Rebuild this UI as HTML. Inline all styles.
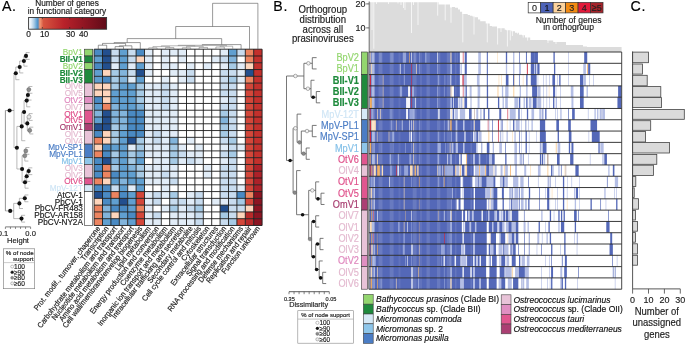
<!DOCTYPE html>
<html><head><meta charset="utf-8"><style>
html,body{margin:0;padding:0;background:#fff;width:685px;height:344px;overflow:hidden}
svg{display:block;font-family:"Liberation Sans",sans-serif;will-change:transform}
text{stroke-width:0.17px}
</style></head><body>
<svg width="685" height="344" viewBox="0 0 685 344" shape-rendering="auto">
<text transform="translate(2 11.3) scale(0.9524 1)" font-size="14.91" stroke="#000" letter-spacing="0.6">A.</text>
<text x="67" y="5.9" font-size="8.3" text-anchor="middle" fill="#1a1a1a" stroke="#1a1a1a">Number of genes</text>
<text x="67" y="13.7" font-size="8.3" text-anchor="middle" fill="#1a1a1a" stroke="#1a1a1a">in functional category</text>
<defs>
<linearGradient id="cbar" x1="0" x2="1" y1="0" y2="0">
<stop offset="0" stop-color="#ffffff"/>
<stop offset="0.03" stop-color="#e6f0f8"/>
<stop offset="0.07" stop-color="#a9cbe6"/>
<stop offset="0.1" stop-color="#6aa7d6"/>
<stop offset="0.122" stop-color="#4a8cc4"/>
<stop offset="0.135" stop-color="#c79a8e"/>
<stop offset="0.15" stop-color="#f0926f"/>
<stop offset="0.19" stop-color="#d7553f"/>
<stop offset="0.45" stop-color="#b9222a"/>
<stop offset="0.72" stop-color="#8e1522"/>
<stop offset="1" stop-color="#5f0b18"/>
</linearGradient></defs>
<rect x="28.6" y="17.5" width="78" height="11.7" fill="url(#cbar)" stroke="#333" stroke-width="0.9"/>
<line x1="42.4" y1="17.6" x2="42.4" y2="19.2" stroke="#222" stroke-width="0.6"/>
<line x1="42.4" y1="27" x2="42.4" y2="28.6" stroke="#222" stroke-width="0.6"/>
<line x1="69.7" y1="17.6" x2="69.7" y2="19.2" stroke="#222" stroke-width="0.6"/>
<line x1="69.7" y1="27" x2="69.7" y2="28.6" stroke="#222" stroke-width="0.6"/>
<line x1="82.3" y1="17.6" x2="82.3" y2="19.2" stroke="#222" stroke-width="0.6"/>
<line x1="82.3" y1="27" x2="82.3" y2="28.6" stroke="#222" stroke-width="0.6"/>
<text x="28.6" y="36.6" font-size="8.3" text-anchor="middle" fill="#1a1a1a" stroke="#1a1a1a">0</text>
<text x="44.6" y="36.6" font-size="8.3" text-anchor="middle" fill="#1a1a1a" stroke="#1a1a1a">10</text>
<text x="70.6" y="36.6" font-size="8.3" text-anchor="middle" fill="#1a1a1a" stroke="#1a1a1a">30</text>
<text x="83.6" y="36.6" font-size="8.3" text-anchor="middle" fill="#1a1a1a" stroke="#1a1a1a">40</text>
<rect x="94.1" y="49.2" width="8.4" height="6.78" fill="#4a8ac3"/>
<rect x="102.5" y="49.2" width="8.4" height="6.78" fill="#234f8e"/>
<rect x="110.9" y="49.2" width="8.4" height="6.78" fill="#c8dcef"/>
<rect x="119.3" y="49.2" width="8.4" height="6.78" fill="#609fd0"/>
<rect x="127.7" y="49.2" width="8.4" height="6.78" fill="#c8dcef"/>
<rect x="136.1" y="49.2" width="8.4" height="6.78" fill="#4a8ac3"/>
<rect x="144.5" y="49.2" width="8.4" height="6.78" fill="#e1ecf7"/>
<rect x="152.9" y="49.2" width="8.4" height="6.78" fill="#ffffff"/>
<rect x="161.3" y="49.2" width="8.4" height="6.78" fill="#e1ecf7"/>
<rect x="169.7" y="49.2" width="8.4" height="6.78" fill="#e1ecf7"/>
<rect x="178.1" y="49.2" width="8.4" height="6.78" fill="#e1ecf7"/>
<rect x="186.5" y="49.2" width="8.4" height="6.78" fill="#ffffff"/>
<rect x="194.9" y="49.2" width="8.4" height="6.78" fill="#ffffff"/>
<rect x="203.3" y="49.2" width="8.4" height="6.78" fill="#ffffff"/>
<rect x="211.7" y="49.2" width="8.4" height="6.78" fill="#ffffff"/>
<rect x="220.1" y="49.2" width="8.4" height="6.78" fill="#e1ecf7"/>
<rect x="228.5" y="49.2" width="8.4" height="6.78" fill="#609fd0"/>
<rect x="236.9" y="49.2" width="8.4" height="6.78" fill="#c8dcef"/>
<rect x="245.3" y="49.2" width="8.4" height="6.78" fill="#ec8460"/>
<rect x="253.7" y="49.2" width="8.4" height="6.78" fill="#c3302c"/>
<rect x="94.1" y="55.98" width="8.4" height="6.78" fill="#609fd0"/>
<rect x="102.5" y="55.98" width="8.4" height="6.78" fill="#234f8e"/>
<rect x="110.9" y="55.98" width="8.4" height="6.78" fill="#c8dcef"/>
<rect x="119.3" y="55.98" width="8.4" height="6.78" fill="#609fd0"/>
<rect x="127.7" y="55.98" width="8.4" height="6.78" fill="#c8dcef"/>
<rect x="136.1" y="55.98" width="8.4" height="6.78" fill="#fdd5bc"/>
<rect x="144.5" y="55.98" width="8.4" height="6.78" fill="#e1ecf7"/>
<rect x="152.9" y="55.98" width="8.4" height="6.78" fill="#ffffff"/>
<rect x="161.3" y="55.98" width="8.4" height="6.78" fill="#e1ecf7"/>
<rect x="169.7" y="55.98" width="8.4" height="6.78" fill="#ffffff"/>
<rect x="178.1" y="55.98" width="8.4" height="6.78" fill="#e1ecf7"/>
<rect x="186.5" y="55.98" width="8.4" height="6.78" fill="#ffffff"/>
<rect x="194.9" y="55.98" width="8.4" height="6.78" fill="#ffffff"/>
<rect x="203.3" y="55.98" width="8.4" height="6.78" fill="#ffffff"/>
<rect x="211.7" y="55.98" width="8.4" height="6.78" fill="#e1ecf7"/>
<rect x="220.1" y="55.98" width="8.4" height="6.78" fill="#c8dcef"/>
<rect x="228.5" y="55.98" width="8.4" height="6.78" fill="#82b4db"/>
<rect x="236.9" y="55.98" width="8.4" height="6.78" fill="#ffffff"/>
<rect x="245.3" y="55.98" width="8.4" height="6.78" fill="#ec8460"/>
<rect x="253.7" y="55.98" width="8.4" height="6.78" fill="#c3302c"/>
<rect x="94.1" y="62.76" width="8.4" height="6.78" fill="#4a8ac3"/>
<rect x="102.5" y="62.76" width="8.4" height="6.78" fill="#234f8e"/>
<rect x="110.9" y="62.76" width="8.4" height="6.78" fill="#e1ecf7"/>
<rect x="119.3" y="62.76" width="8.4" height="6.78" fill="#609fd0"/>
<rect x="127.7" y="62.76" width="8.4" height="6.78" fill="#e1ecf7"/>
<rect x="136.1" y="62.76" width="8.4" height="6.78" fill="#609fd0"/>
<rect x="144.5" y="62.76" width="8.4" height="6.78" fill="#e1ecf7"/>
<rect x="152.9" y="62.76" width="8.4" height="6.78" fill="#ffffff"/>
<rect x="161.3" y="62.76" width="8.4" height="6.78" fill="#e1ecf7"/>
<rect x="169.7" y="62.76" width="8.4" height="6.78" fill="#e1ecf7"/>
<rect x="178.1" y="62.76" width="8.4" height="6.78" fill="#ffffff"/>
<rect x="186.5" y="62.76" width="8.4" height="6.78" fill="#e1ecf7"/>
<rect x="194.9" y="62.76" width="8.4" height="6.78" fill="#ffffff"/>
<rect x="203.3" y="62.76" width="8.4" height="6.78" fill="#e1ecf7"/>
<rect x="211.7" y="62.76" width="8.4" height="6.78" fill="#ffffff"/>
<rect x="220.1" y="62.76" width="8.4" height="6.78" fill="#e1ecf7"/>
<rect x="228.5" y="62.76" width="8.4" height="6.78" fill="#a6cae5"/>
<rect x="236.9" y="62.76" width="8.4" height="6.78" fill="#e1ecf7"/>
<rect x="245.3" y="62.76" width="8.4" height="6.78" fill="#fdd5bc"/>
<rect x="253.7" y="62.76" width="8.4" height="6.78" fill="#c3302c"/>
<rect x="94.1" y="69.54" width="8.4" height="6.78" fill="#609fd0"/>
<rect x="102.5" y="69.54" width="8.4" height="6.78" fill="#fdd5bc"/>
<rect x="110.9" y="69.54" width="8.4" height="6.78" fill="#a6cae5"/>
<rect x="119.3" y="69.54" width="8.4" height="6.78" fill="#82b4db"/>
<rect x="127.7" y="69.54" width="8.4" height="6.78" fill="#c8dcef"/>
<rect x="136.1" y="69.54" width="8.4" height="6.78" fill="#234f8e"/>
<rect x="144.5" y="69.54" width="8.4" height="6.78" fill="#e1ecf7"/>
<rect x="152.9" y="69.54" width="8.4" height="6.78" fill="#ffffff"/>
<rect x="161.3" y="69.54" width="8.4" height="6.78" fill="#ffffff"/>
<rect x="169.7" y="69.54" width="8.4" height="6.78" fill="#e1ecf7"/>
<rect x="178.1" y="69.54" width="8.4" height="6.78" fill="#e1ecf7"/>
<rect x="186.5" y="69.54" width="8.4" height="6.78" fill="#c8dcef"/>
<rect x="194.9" y="69.54" width="8.4" height="6.78" fill="#ffffff"/>
<rect x="203.3" y="69.54" width="8.4" height="6.78" fill="#ffffff"/>
<rect x="211.7" y="69.54" width="8.4" height="6.78" fill="#ffffff"/>
<rect x="220.1" y="69.54" width="8.4" height="6.78" fill="#c8dcef"/>
<rect x="228.5" y="69.54" width="8.4" height="6.78" fill="#c8dcef"/>
<rect x="236.9" y="69.54" width="8.4" height="6.78" fill="#e1ecf7"/>
<rect x="245.3" y="69.54" width="8.4" height="6.78" fill="#234f8e"/>
<rect x="253.7" y="69.54" width="8.4" height="6.78" fill="#c3302c"/>
<rect x="94.1" y="76.32" width="8.4" height="6.78" fill="#609fd0"/>
<rect x="102.5" y="76.32" width="8.4" height="6.78" fill="#4a8ac3"/>
<rect x="110.9" y="76.32" width="8.4" height="6.78" fill="#a6cae5"/>
<rect x="119.3" y="76.32" width="8.4" height="6.78" fill="#82b4db"/>
<rect x="127.7" y="76.32" width="8.4" height="6.78" fill="#e1ecf7"/>
<rect x="136.1" y="76.32" width="8.4" height="6.78" fill="#609fd0"/>
<rect x="144.5" y="76.32" width="8.4" height="6.78" fill="#ffffff"/>
<rect x="152.9" y="76.32" width="8.4" height="6.78" fill="#ffffff"/>
<rect x="161.3" y="76.32" width="8.4" height="6.78" fill="#e1ecf7"/>
<rect x="169.7" y="76.32" width="8.4" height="6.78" fill="#ffffff"/>
<rect x="178.1" y="76.32" width="8.4" height="6.78" fill="#e1ecf7"/>
<rect x="186.5" y="76.32" width="8.4" height="6.78" fill="#c8dcef"/>
<rect x="194.9" y="76.32" width="8.4" height="6.78" fill="#ffffff"/>
<rect x="203.3" y="76.32" width="8.4" height="6.78" fill="#ffffff"/>
<rect x="211.7" y="76.32" width="8.4" height="6.78" fill="#ffffff"/>
<rect x="220.1" y="76.32" width="8.4" height="6.78" fill="#c8dcef"/>
<rect x="228.5" y="76.32" width="8.4" height="6.78" fill="#a6cae5"/>
<rect x="236.9" y="76.32" width="8.4" height="6.78" fill="#e1ecf7"/>
<rect x="245.3" y="76.32" width="8.4" height="6.78" fill="#ec8460"/>
<rect x="253.7" y="76.32" width="8.4" height="6.78" fill="#c3302c"/>
<rect x="94.1" y="83.1" width="8.4" height="6.78" fill="#fdd5bc"/>
<rect x="102.5" y="83.1" width="8.4" height="6.78" fill="#fdd5bc"/>
<rect x="110.9" y="83.1" width="8.4" height="6.78" fill="#a6cae5"/>
<rect x="119.3" y="83.1" width="8.4" height="6.78" fill="#609fd0"/>
<rect x="127.7" y="83.1" width="8.4" height="6.78" fill="#609fd0"/>
<rect x="136.1" y="83.1" width="8.4" height="6.78" fill="#a6cae5"/>
<rect x="144.5" y="83.1" width="8.4" height="6.78" fill="#e1ecf7"/>
<rect x="152.9" y="83.1" width="8.4" height="6.78" fill="#e1ecf7"/>
<rect x="161.3" y="83.1" width="8.4" height="6.78" fill="#c8dcef"/>
<rect x="169.7" y="83.1" width="8.4" height="6.78" fill="#e1ecf7"/>
<rect x="178.1" y="83.1" width="8.4" height="6.78" fill="#ffffff"/>
<rect x="186.5" y="83.1" width="8.4" height="6.78" fill="#ffffff"/>
<rect x="194.9" y="83.1" width="8.4" height="6.78" fill="#ffffff"/>
<rect x="203.3" y="83.1" width="8.4" height="6.78" fill="#ffffff"/>
<rect x="211.7" y="83.1" width="8.4" height="6.78" fill="#ffffff"/>
<rect x="220.1" y="83.1" width="8.4" height="6.78" fill="#c8dcef"/>
<rect x="228.5" y="83.1" width="8.4" height="6.78" fill="#c8dcef"/>
<rect x="236.9" y="83.1" width="8.4" height="6.78" fill="#ffffff"/>
<rect x="245.3" y="83.1" width="8.4" height="6.78" fill="#d3473a"/>
<rect x="253.7" y="83.1" width="8.4" height="6.78" fill="#c3302c"/>
<rect x="94.1" y="89.88" width="8.4" height="6.78" fill="#fdd5bc"/>
<rect x="102.5" y="89.88" width="8.4" height="6.78" fill="#fdd5bc"/>
<rect x="110.9" y="89.88" width="8.4" height="6.78" fill="#609fd0"/>
<rect x="119.3" y="89.88" width="8.4" height="6.78" fill="#609fd0"/>
<rect x="127.7" y="89.88" width="8.4" height="6.78" fill="#609fd0"/>
<rect x="136.1" y="89.88" width="8.4" height="6.78" fill="#a6cae5"/>
<rect x="144.5" y="89.88" width="8.4" height="6.78" fill="#e1ecf7"/>
<rect x="152.9" y="89.88" width="8.4" height="6.78" fill="#e1ecf7"/>
<rect x="161.3" y="89.88" width="8.4" height="6.78" fill="#c8dcef"/>
<rect x="169.7" y="89.88" width="8.4" height="6.78" fill="#e1ecf7"/>
<rect x="178.1" y="89.88" width="8.4" height="6.78" fill="#ffffff"/>
<rect x="186.5" y="89.88" width="8.4" height="6.78" fill="#ffffff"/>
<rect x="194.9" y="89.88" width="8.4" height="6.78" fill="#ffffff"/>
<rect x="203.3" y="89.88" width="8.4" height="6.78" fill="#ffffff"/>
<rect x="211.7" y="89.88" width="8.4" height="6.78" fill="#ffffff"/>
<rect x="220.1" y="89.88" width="8.4" height="6.78" fill="#c8dcef"/>
<rect x="228.5" y="89.88" width="8.4" height="6.78" fill="#c8dcef"/>
<rect x="236.9" y="89.88" width="8.4" height="6.78" fill="#ffffff"/>
<rect x="245.3" y="89.88" width="8.4" height="6.78" fill="#d3473a"/>
<rect x="253.7" y="89.88" width="8.4" height="6.78" fill="#c3302c"/>
<rect x="94.1" y="96.66" width="8.4" height="6.78" fill="#4a8ac3"/>
<rect x="102.5" y="96.66" width="8.4" height="6.78" fill="#fdd5bc"/>
<rect x="110.9" y="96.66" width="8.4" height="6.78" fill="#609fd0"/>
<rect x="119.3" y="96.66" width="8.4" height="6.78" fill="#609fd0"/>
<rect x="127.7" y="96.66" width="8.4" height="6.78" fill="#609fd0"/>
<rect x="136.1" y="96.66" width="8.4" height="6.78" fill="#a6cae5"/>
<rect x="144.5" y="96.66" width="8.4" height="6.78" fill="#e1ecf7"/>
<rect x="152.9" y="96.66" width="8.4" height="6.78" fill="#e1ecf7"/>
<rect x="161.3" y="96.66" width="8.4" height="6.78" fill="#c8dcef"/>
<rect x="169.7" y="96.66" width="8.4" height="6.78" fill="#e1ecf7"/>
<rect x="178.1" y="96.66" width="8.4" height="6.78" fill="#ffffff"/>
<rect x="186.5" y="96.66" width="8.4" height="6.78" fill="#ffffff"/>
<rect x="194.9" y="96.66" width="8.4" height="6.78" fill="#ffffff"/>
<rect x="203.3" y="96.66" width="8.4" height="6.78" fill="#ffffff"/>
<rect x="211.7" y="96.66" width="8.4" height="6.78" fill="#ffffff"/>
<rect x="220.1" y="96.66" width="8.4" height="6.78" fill="#e1ecf7"/>
<rect x="228.5" y="96.66" width="8.4" height="6.78" fill="#c8dcef"/>
<rect x="236.9" y="96.66" width="8.4" height="6.78" fill="#ffffff"/>
<rect x="245.3" y="96.66" width="8.4" height="6.78" fill="#d3473a"/>
<rect x="253.7" y="96.66" width="8.4" height="6.78" fill="#c3302c"/>
<rect x="94.1" y="103.44" width="8.4" height="6.78" fill="#609fd0"/>
<rect x="102.5" y="103.44" width="8.4" height="6.78" fill="#ec8460"/>
<rect x="110.9" y="103.44" width="8.4" height="6.78" fill="#82b4db"/>
<rect x="119.3" y="103.44" width="8.4" height="6.78" fill="#609fd0"/>
<rect x="127.7" y="103.44" width="8.4" height="6.78" fill="#609fd0"/>
<rect x="136.1" y="103.44" width="8.4" height="6.78" fill="#82b4db"/>
<rect x="144.5" y="103.44" width="8.4" height="6.78" fill="#e1ecf7"/>
<rect x="152.9" y="103.44" width="8.4" height="6.78" fill="#e1ecf7"/>
<rect x="161.3" y="103.44" width="8.4" height="6.78" fill="#c8dcef"/>
<rect x="169.7" y="103.44" width="8.4" height="6.78" fill="#e1ecf7"/>
<rect x="178.1" y="103.44" width="8.4" height="6.78" fill="#ffffff"/>
<rect x="186.5" y="103.44" width="8.4" height="6.78" fill="#ffffff"/>
<rect x="194.9" y="103.44" width="8.4" height="6.78" fill="#ffffff"/>
<rect x="203.3" y="103.44" width="8.4" height="6.78" fill="#ffffff"/>
<rect x="211.7" y="103.44" width="8.4" height="6.78" fill="#ffffff"/>
<rect x="220.1" y="103.44" width="8.4" height="6.78" fill="#c8dcef"/>
<rect x="228.5" y="103.44" width="8.4" height="6.78" fill="#c8dcef"/>
<rect x="236.9" y="103.44" width="8.4" height="6.78" fill="#ffffff"/>
<rect x="245.3" y="103.44" width="8.4" height="6.78" fill="#d3473a"/>
<rect x="253.7" y="103.44" width="8.4" height="6.78" fill="#c3302c"/>
<rect x="94.1" y="110.22" width="8.4" height="6.78" fill="#82b4db"/>
<rect x="102.5" y="110.22" width="8.4" height="6.78" fill="#234f8e"/>
<rect x="110.9" y="110.22" width="8.4" height="6.78" fill="#82b4db"/>
<rect x="119.3" y="110.22" width="8.4" height="6.78" fill="#82b4db"/>
<rect x="127.7" y="110.22" width="8.4" height="6.78" fill="#4a8ac3"/>
<rect x="136.1" y="110.22" width="8.4" height="6.78" fill="#4a8ac3"/>
<rect x="144.5" y="110.22" width="8.4" height="6.78" fill="#e1ecf7"/>
<rect x="152.9" y="110.22" width="8.4" height="6.78" fill="#e1ecf7"/>
<rect x="161.3" y="110.22" width="8.4" height="6.78" fill="#e1ecf7"/>
<rect x="169.7" y="110.22" width="8.4" height="6.78" fill="#e1ecf7"/>
<rect x="178.1" y="110.22" width="8.4" height="6.78" fill="#ffffff"/>
<rect x="186.5" y="110.22" width="8.4" height="6.78" fill="#ffffff"/>
<rect x="194.9" y="110.22" width="8.4" height="6.78" fill="#ffffff"/>
<rect x="203.3" y="110.22" width="8.4" height="6.78" fill="#ffffff"/>
<rect x="211.7" y="110.22" width="8.4" height="6.78" fill="#ffffff"/>
<rect x="220.1" y="110.22" width="8.4" height="6.78" fill="#a6cae5"/>
<rect x="228.5" y="110.22" width="8.4" height="6.78" fill="#c8dcef"/>
<rect x="236.9" y="110.22" width="8.4" height="6.78" fill="#ffffff"/>
<rect x="245.3" y="110.22" width="8.4" height="6.78" fill="#d3473a"/>
<rect x="253.7" y="110.22" width="8.4" height="6.78" fill="#c3302c"/>
<rect x="94.1" y="117" width="8.4" height="6.78" fill="#609fd0"/>
<rect x="102.5" y="117" width="8.4" height="6.78" fill="#234f8e"/>
<rect x="110.9" y="117" width="8.4" height="6.78" fill="#82b4db"/>
<rect x="119.3" y="117" width="8.4" height="6.78" fill="#82b4db"/>
<rect x="127.7" y="117" width="8.4" height="6.78" fill="#4a8ac3"/>
<rect x="136.1" y="117" width="8.4" height="6.78" fill="#4a8ac3"/>
<rect x="144.5" y="117" width="8.4" height="6.78" fill="#e1ecf7"/>
<rect x="152.9" y="117" width="8.4" height="6.78" fill="#e1ecf7"/>
<rect x="161.3" y="117" width="8.4" height="6.78" fill="#e1ecf7"/>
<rect x="169.7" y="117" width="8.4" height="6.78" fill="#e1ecf7"/>
<rect x="178.1" y="117" width="8.4" height="6.78" fill="#ffffff"/>
<rect x="186.5" y="117" width="8.4" height="6.78" fill="#ffffff"/>
<rect x="194.9" y="117" width="8.4" height="6.78" fill="#ffffff"/>
<rect x="203.3" y="117" width="8.4" height="6.78" fill="#ffffff"/>
<rect x="211.7" y="117" width="8.4" height="6.78" fill="#ffffff"/>
<rect x="220.1" y="117" width="8.4" height="6.78" fill="#82b4db"/>
<rect x="228.5" y="117" width="8.4" height="6.78" fill="#c8dcef"/>
<rect x="236.9" y="117" width="8.4" height="6.78" fill="#ffffff"/>
<rect x="245.3" y="117" width="8.4" height="6.78" fill="#d3473a"/>
<rect x="253.7" y="117" width="8.4" height="6.78" fill="#c3302c"/>
<rect x="94.1" y="123.78" width="8.4" height="6.78" fill="#234f8e"/>
<rect x="102.5" y="123.78" width="8.4" height="6.78" fill="#234f8e"/>
<rect x="110.9" y="123.78" width="8.4" height="6.78" fill="#a6cae5"/>
<rect x="119.3" y="123.78" width="8.4" height="6.78" fill="#82b4db"/>
<rect x="127.7" y="123.78" width="8.4" height="6.78" fill="#4a8ac3"/>
<rect x="136.1" y="123.78" width="8.4" height="6.78" fill="#4a8ac3"/>
<rect x="144.5" y="123.78" width="8.4" height="6.78" fill="#e1ecf7"/>
<rect x="152.9" y="123.78" width="8.4" height="6.78" fill="#e1ecf7"/>
<rect x="161.3" y="123.78" width="8.4" height="6.78" fill="#e1ecf7"/>
<rect x="169.7" y="123.78" width="8.4" height="6.78" fill="#e1ecf7"/>
<rect x="178.1" y="123.78" width="8.4" height="6.78" fill="#ffffff"/>
<rect x="186.5" y="123.78" width="8.4" height="6.78" fill="#ffffff"/>
<rect x="194.9" y="123.78" width="8.4" height="6.78" fill="#ffffff"/>
<rect x="203.3" y="123.78" width="8.4" height="6.78" fill="#ffffff"/>
<rect x="211.7" y="123.78" width="8.4" height="6.78" fill="#ffffff"/>
<rect x="220.1" y="123.78" width="8.4" height="6.78" fill="#a6cae5"/>
<rect x="228.5" y="123.78" width="8.4" height="6.78" fill="#c8dcef"/>
<rect x="236.9" y="123.78" width="8.4" height="6.78" fill="#ffffff"/>
<rect x="245.3" y="123.78" width="8.4" height="6.78" fill="#d3473a"/>
<rect x="253.7" y="123.78" width="8.4" height="6.78" fill="#c3302c"/>
<rect x="94.1" y="130.56" width="8.4" height="6.78" fill="#4a8ac3"/>
<rect x="102.5" y="130.56" width="8.4" height="6.78" fill="#fdd5bc"/>
<rect x="110.9" y="130.56" width="8.4" height="6.78" fill="#a6cae5"/>
<rect x="119.3" y="130.56" width="8.4" height="6.78" fill="#609fd0"/>
<rect x="127.7" y="130.56" width="8.4" height="6.78" fill="#4a8ac3"/>
<rect x="136.1" y="130.56" width="8.4" height="6.78" fill="#4a8ac3"/>
<rect x="144.5" y="130.56" width="8.4" height="6.78" fill="#e1ecf7"/>
<rect x="152.9" y="130.56" width="8.4" height="6.78" fill="#c8dcef"/>
<rect x="161.3" y="130.56" width="8.4" height="6.78" fill="#e1ecf7"/>
<rect x="169.7" y="130.56" width="8.4" height="6.78" fill="#e1ecf7"/>
<rect x="178.1" y="130.56" width="8.4" height="6.78" fill="#ffffff"/>
<rect x="186.5" y="130.56" width="8.4" height="6.78" fill="#ffffff"/>
<rect x="194.9" y="130.56" width="8.4" height="6.78" fill="#ffffff"/>
<rect x="203.3" y="130.56" width="8.4" height="6.78" fill="#ffffff"/>
<rect x="211.7" y="130.56" width="8.4" height="6.78" fill="#ffffff"/>
<rect x="220.1" y="130.56" width="8.4" height="6.78" fill="#a6cae5"/>
<rect x="228.5" y="130.56" width="8.4" height="6.78" fill="#c8dcef"/>
<rect x="236.9" y="130.56" width="8.4" height="6.78" fill="#ffffff"/>
<rect x="245.3" y="130.56" width="8.4" height="6.78" fill="#d3473a"/>
<rect x="253.7" y="130.56" width="8.4" height="6.78" fill="#c3302c"/>
<rect x="94.1" y="137.34" width="8.4" height="6.78" fill="#ec8460"/>
<rect x="102.5" y="137.34" width="8.4" height="6.78" fill="#fdd5bc"/>
<rect x="110.9" y="137.34" width="8.4" height="6.78" fill="#a6cae5"/>
<rect x="119.3" y="137.34" width="8.4" height="6.78" fill="#609fd0"/>
<rect x="127.7" y="137.34" width="8.4" height="6.78" fill="#234f8e"/>
<rect x="136.1" y="137.34" width="8.4" height="6.78" fill="#a6cae5"/>
<rect x="144.5" y="137.34" width="8.4" height="6.78" fill="#e1ecf7"/>
<rect x="152.9" y="137.34" width="8.4" height="6.78" fill="#c8dcef"/>
<rect x="161.3" y="137.34" width="8.4" height="6.78" fill="#e1ecf7"/>
<rect x="169.7" y="137.34" width="8.4" height="6.78" fill="#82b4db"/>
<rect x="178.1" y="137.34" width="8.4" height="6.78" fill="#ffffff"/>
<rect x="186.5" y="137.34" width="8.4" height="6.78" fill="#e1ecf7"/>
<rect x="194.9" y="137.34" width="8.4" height="6.78" fill="#ffffff"/>
<rect x="203.3" y="137.34" width="8.4" height="6.78" fill="#ffffff"/>
<rect x="211.7" y="137.34" width="8.4" height="6.78" fill="#ffffff"/>
<rect x="220.1" y="137.34" width="8.4" height="6.78" fill="#c8dcef"/>
<rect x="228.5" y="137.34" width="8.4" height="6.78" fill="#a6cae5"/>
<rect x="236.9" y="137.34" width="8.4" height="6.78" fill="#ffffff"/>
<rect x="245.3" y="137.34" width="8.4" height="6.78" fill="#d3473a"/>
<rect x="253.7" y="137.34" width="8.4" height="6.78" fill="#c3302c"/>
<rect x="94.1" y="144.12" width="8.4" height="6.78" fill="#fdd5bc"/>
<rect x="102.5" y="144.12" width="8.4" height="6.78" fill="#4a8ac3"/>
<rect x="110.9" y="144.12" width="8.4" height="6.78" fill="#609fd0"/>
<rect x="119.3" y="144.12" width="8.4" height="6.78" fill="#609fd0"/>
<rect x="127.7" y="144.12" width="8.4" height="6.78" fill="#e1ecf7"/>
<rect x="136.1" y="144.12" width="8.4" height="6.78" fill="#a6cae5"/>
<rect x="144.5" y="144.12" width="8.4" height="6.78" fill="#e1ecf7"/>
<rect x="152.9" y="144.12" width="8.4" height="6.78" fill="#e1ecf7"/>
<rect x="161.3" y="144.12" width="8.4" height="6.78" fill="#e1ecf7"/>
<rect x="169.7" y="144.12" width="8.4" height="6.78" fill="#a6cae5"/>
<rect x="178.1" y="144.12" width="8.4" height="6.78" fill="#e1ecf7"/>
<rect x="186.5" y="144.12" width="8.4" height="6.78" fill="#ffffff"/>
<rect x="194.9" y="144.12" width="8.4" height="6.78" fill="#e1ecf7"/>
<rect x="203.3" y="144.12" width="8.4" height="6.78" fill="#ffffff"/>
<rect x="211.7" y="144.12" width="8.4" height="6.78" fill="#ffffff"/>
<rect x="220.1" y="144.12" width="8.4" height="6.78" fill="#e1ecf7"/>
<rect x="228.5" y="144.12" width="8.4" height="6.78" fill="#c8dcef"/>
<rect x="236.9" y="144.12" width="8.4" height="6.78" fill="#e1ecf7"/>
<rect x="245.3" y="144.12" width="8.4" height="6.78" fill="#d3473a"/>
<rect x="253.7" y="144.12" width="8.4" height="6.78" fill="#c3302c"/>
<rect x="94.1" y="150.9" width="8.4" height="6.78" fill="#ec8460"/>
<rect x="102.5" y="150.9" width="8.4" height="6.78" fill="#4a8ac3"/>
<rect x="110.9" y="150.9" width="8.4" height="6.78" fill="#a6cae5"/>
<rect x="119.3" y="150.9" width="8.4" height="6.78" fill="#609fd0"/>
<rect x="127.7" y="150.9" width="8.4" height="6.78" fill="#a6cae5"/>
<rect x="136.1" y="150.9" width="8.4" height="6.78" fill="#82b4db"/>
<rect x="144.5" y="150.9" width="8.4" height="6.78" fill="#e1ecf7"/>
<rect x="152.9" y="150.9" width="8.4" height="6.78" fill="#e1ecf7"/>
<rect x="161.3" y="150.9" width="8.4" height="6.78" fill="#e1ecf7"/>
<rect x="169.7" y="150.9" width="8.4" height="6.78" fill="#a6cae5"/>
<rect x="178.1" y="150.9" width="8.4" height="6.78" fill="#c8dcef"/>
<rect x="186.5" y="150.9" width="8.4" height="6.78" fill="#e1ecf7"/>
<rect x="194.9" y="150.9" width="8.4" height="6.78" fill="#e1ecf7"/>
<rect x="203.3" y="150.9" width="8.4" height="6.78" fill="#ffffff"/>
<rect x="211.7" y="150.9" width="8.4" height="6.78" fill="#ffffff"/>
<rect x="220.1" y="150.9" width="8.4" height="6.78" fill="#c8dcef"/>
<rect x="228.5" y="150.9" width="8.4" height="6.78" fill="#a6cae5"/>
<rect x="236.9" y="150.9" width="8.4" height="6.78" fill="#ffffff"/>
<rect x="245.3" y="150.9" width="8.4" height="6.78" fill="#d3473a"/>
<rect x="253.7" y="150.9" width="8.4" height="6.78" fill="#c3302c"/>
<rect x="94.1" y="157.68" width="8.4" height="6.78" fill="#4a8ac3"/>
<rect x="102.5" y="157.68" width="8.4" height="6.78" fill="#234f8e"/>
<rect x="110.9" y="157.68" width="8.4" height="6.78" fill="#82b4db"/>
<rect x="119.3" y="157.68" width="8.4" height="6.78" fill="#609fd0"/>
<rect x="127.7" y="157.68" width="8.4" height="6.78" fill="#a6cae5"/>
<rect x="136.1" y="157.68" width="8.4" height="6.78" fill="#609fd0"/>
<rect x="144.5" y="157.68" width="8.4" height="6.78" fill="#ffffff"/>
<rect x="152.9" y="157.68" width="8.4" height="6.78" fill="#e1ecf7"/>
<rect x="161.3" y="157.68" width="8.4" height="6.78" fill="#e1ecf7"/>
<rect x="169.7" y="157.68" width="8.4" height="6.78" fill="#a6cae5"/>
<rect x="178.1" y="157.68" width="8.4" height="6.78" fill="#e1ecf7"/>
<rect x="186.5" y="157.68" width="8.4" height="6.78" fill="#c8dcef"/>
<rect x="194.9" y="157.68" width="8.4" height="6.78" fill="#e1ecf7"/>
<rect x="203.3" y="157.68" width="8.4" height="6.78" fill="#ffffff"/>
<rect x="211.7" y="157.68" width="8.4" height="6.78" fill="#ffffff"/>
<rect x="220.1" y="157.68" width="8.4" height="6.78" fill="#e1ecf7"/>
<rect x="228.5" y="157.68" width="8.4" height="6.78" fill="#c8dcef"/>
<rect x="236.9" y="157.68" width="8.4" height="6.78" fill="#ffffff"/>
<rect x="245.3" y="157.68" width="8.4" height="6.78" fill="#d3473a"/>
<rect x="253.7" y="157.68" width="8.4" height="6.78" fill="#c3302c"/>
<rect x="94.1" y="164.46" width="8.4" height="6.78" fill="#4a8ac3"/>
<rect x="102.5" y="164.46" width="8.4" height="6.78" fill="#ec8460"/>
<rect x="110.9" y="164.46" width="8.4" height="6.78" fill="#a6cae5"/>
<rect x="119.3" y="164.46" width="8.4" height="6.78" fill="#609fd0"/>
<rect x="127.7" y="164.46" width="8.4" height="6.78" fill="#82b4db"/>
<rect x="136.1" y="164.46" width="8.4" height="6.78" fill="#a6cae5"/>
<rect x="144.5" y="164.46" width="8.4" height="6.78" fill="#e1ecf7"/>
<rect x="152.9" y="164.46" width="8.4" height="6.78" fill="#e1ecf7"/>
<rect x="161.3" y="164.46" width="8.4" height="6.78" fill="#e1ecf7"/>
<rect x="169.7" y="164.46" width="8.4" height="6.78" fill="#e1ecf7"/>
<rect x="178.1" y="164.46" width="8.4" height="6.78" fill="#ffffff"/>
<rect x="186.5" y="164.46" width="8.4" height="6.78" fill="#ffffff"/>
<rect x="194.9" y="164.46" width="8.4" height="6.78" fill="#ffffff"/>
<rect x="203.3" y="164.46" width="8.4" height="6.78" fill="#e1ecf7"/>
<rect x="211.7" y="164.46" width="8.4" height="6.78" fill="#ffffff"/>
<rect x="220.1" y="164.46" width="8.4" height="6.78" fill="#c8dcef"/>
<rect x="228.5" y="164.46" width="8.4" height="6.78" fill="#c8dcef"/>
<rect x="236.9" y="164.46" width="8.4" height="6.78" fill="#ffffff"/>
<rect x="245.3" y="164.46" width="8.4" height="6.78" fill="#d3473a"/>
<rect x="253.7" y="164.46" width="8.4" height="6.78" fill="#ad2129"/>
<rect x="94.1" y="171.24" width="8.4" height="6.78" fill="#4a8ac3"/>
<rect x="102.5" y="171.24" width="8.4" height="6.78" fill="#ec8460"/>
<rect x="110.9" y="171.24" width="8.4" height="6.78" fill="#4a8ac3"/>
<rect x="119.3" y="171.24" width="8.4" height="6.78" fill="#609fd0"/>
<rect x="127.7" y="171.24" width="8.4" height="6.78" fill="#609fd0"/>
<rect x="136.1" y="171.24" width="8.4" height="6.78" fill="#a6cae5"/>
<rect x="144.5" y="171.24" width="8.4" height="6.78" fill="#e1ecf7"/>
<rect x="152.9" y="171.24" width="8.4" height="6.78" fill="#e1ecf7"/>
<rect x="161.3" y="171.24" width="8.4" height="6.78" fill="#c8dcef"/>
<rect x="169.7" y="171.24" width="8.4" height="6.78" fill="#e1ecf7"/>
<rect x="178.1" y="171.24" width="8.4" height="6.78" fill="#ffffff"/>
<rect x="186.5" y="171.24" width="8.4" height="6.78" fill="#ffffff"/>
<rect x="194.9" y="171.24" width="8.4" height="6.78" fill="#ffffff"/>
<rect x="203.3" y="171.24" width="8.4" height="6.78" fill="#e1ecf7"/>
<rect x="211.7" y="171.24" width="8.4" height="6.78" fill="#ffffff"/>
<rect x="220.1" y="171.24" width="8.4" height="6.78" fill="#c8dcef"/>
<rect x="228.5" y="171.24" width="8.4" height="6.78" fill="#c8dcef"/>
<rect x="236.9" y="171.24" width="8.4" height="6.78" fill="#ffffff"/>
<rect x="245.3" y="171.24" width="8.4" height="6.78" fill="#d3473a"/>
<rect x="253.7" y="171.24" width="8.4" height="6.78" fill="#ad2129"/>
<rect x="94.1" y="178.02" width="8.4" height="6.78" fill="#ec8460"/>
<rect x="102.5" y="178.02" width="8.4" height="6.78" fill="#fdd5bc"/>
<rect x="110.9" y="178.02" width="8.4" height="6.78" fill="#609fd0"/>
<rect x="119.3" y="178.02" width="8.4" height="6.78" fill="#82b4db"/>
<rect x="127.7" y="178.02" width="8.4" height="6.78" fill="#609fd0"/>
<rect x="136.1" y="178.02" width="8.4" height="6.78" fill="#609fd0"/>
<rect x="144.5" y="178.02" width="8.4" height="6.78" fill="#e1ecf7"/>
<rect x="152.9" y="178.02" width="8.4" height="6.78" fill="#e1ecf7"/>
<rect x="161.3" y="178.02" width="8.4" height="6.78" fill="#e1ecf7"/>
<rect x="169.7" y="178.02" width="8.4" height="6.78" fill="#c8dcef"/>
<rect x="178.1" y="178.02" width="8.4" height="6.78" fill="#ffffff"/>
<rect x="186.5" y="178.02" width="8.4" height="6.78" fill="#ffffff"/>
<rect x="194.9" y="178.02" width="8.4" height="6.78" fill="#ffffff"/>
<rect x="203.3" y="178.02" width="8.4" height="6.78" fill="#ffffff"/>
<rect x="211.7" y="178.02" width="8.4" height="6.78" fill="#ffffff"/>
<rect x="220.1" y="178.02" width="8.4" height="6.78" fill="#c8dcef"/>
<rect x="228.5" y="178.02" width="8.4" height="6.78" fill="#c8dcef"/>
<rect x="236.9" y="178.02" width="8.4" height="6.78" fill="#ffffff"/>
<rect x="245.3" y="178.02" width="8.4" height="6.78" fill="#d3473a"/>
<rect x="253.7" y="178.02" width="8.4" height="6.78" fill="#ad2129"/>
<rect x="94.1" y="184.8" width="8.4" height="6.78" fill="#4a8ac3"/>
<rect x="102.5" y="184.8" width="8.4" height="6.78" fill="#4a8ac3"/>
<rect x="110.9" y="184.8" width="8.4" height="6.78" fill="#c8dcef"/>
<rect x="119.3" y="184.8" width="8.4" height="6.78" fill="#609fd0"/>
<rect x="127.7" y="184.8" width="8.4" height="6.78" fill="#e1ecf7"/>
<rect x="136.1" y="184.8" width="8.4" height="6.78" fill="#609fd0"/>
<rect x="144.5" y="184.8" width="8.4" height="6.78" fill="#ffffff"/>
<rect x="152.9" y="184.8" width="8.4" height="6.78" fill="#ffffff"/>
<rect x="161.3" y="184.8" width="8.4" height="6.78" fill="#e1ecf7"/>
<rect x="169.7" y="184.8" width="8.4" height="6.78" fill="#ffffff"/>
<rect x="178.1" y="184.8" width="8.4" height="6.78" fill="#ffffff"/>
<rect x="186.5" y="184.8" width="8.4" height="6.78" fill="#ffffff"/>
<rect x="194.9" y="184.8" width="8.4" height="6.78" fill="#ffffff"/>
<rect x="203.3" y="184.8" width="8.4" height="6.78" fill="#ffffff"/>
<rect x="211.7" y="184.8" width="8.4" height="6.78" fill="#ffffff"/>
<rect x="220.1" y="184.8" width="8.4" height="6.78" fill="#c8dcef"/>
<rect x="228.5" y="184.8" width="8.4" height="6.78" fill="#c8dcef"/>
<rect x="236.9" y="184.8" width="8.4" height="6.78" fill="#e1ecf7"/>
<rect x="245.3" y="184.8" width="8.4" height="6.78" fill="#d3473a"/>
<rect x="253.7" y="184.8" width="8.4" height="6.78" fill="#ad2129"/>
<rect x="94.1" y="191.58" width="8.4" height="6.78" fill="#234f8e"/>
<rect x="102.5" y="191.58" width="8.4" height="6.78" fill="#4a8ac3"/>
<rect x="110.9" y="191.58" width="8.4" height="6.78" fill="#ec8460"/>
<rect x="119.3" y="191.58" width="8.4" height="6.78" fill="#4a8ac3"/>
<rect x="127.7" y="191.58" width="8.4" height="6.78" fill="#609fd0"/>
<rect x="136.1" y="191.58" width="8.4" height="6.78" fill="#d3473a"/>
<rect x="144.5" y="191.58" width="8.4" height="6.78" fill="#e1ecf7"/>
<rect x="152.9" y="191.58" width="8.4" height="6.78" fill="#c8dcef"/>
<rect x="161.3" y="191.58" width="8.4" height="6.78" fill="#e1ecf7"/>
<rect x="169.7" y="191.58" width="8.4" height="6.78" fill="#a6cae5"/>
<rect x="178.1" y="191.58" width="8.4" height="6.78" fill="#ffffff"/>
<rect x="186.5" y="191.58" width="8.4" height="6.78" fill="#e1ecf7"/>
<rect x="194.9" y="191.58" width="8.4" height="6.78" fill="#c8dcef"/>
<rect x="203.3" y="191.58" width="8.4" height="6.78" fill="#ffffff"/>
<rect x="211.7" y="191.58" width="8.4" height="6.78" fill="#ffffff"/>
<rect x="220.1" y="191.58" width="8.4" height="6.78" fill="#c8dcef"/>
<rect x="228.5" y="191.58" width="8.4" height="6.78" fill="#c8dcef"/>
<rect x="236.9" y="191.58" width="8.4" height="6.78" fill="#4a8ac3"/>
<rect x="245.3" y="191.58" width="8.4" height="6.78" fill="#ec8460"/>
<rect x="253.7" y="191.58" width="8.4" height="6.78" fill="#8c1422"/>
<rect x="94.1" y="198.36" width="8.4" height="6.78" fill="#fdd5bc"/>
<rect x="102.5" y="198.36" width="8.4" height="6.78" fill="#4a8ac3"/>
<rect x="110.9" y="198.36" width="8.4" height="6.78" fill="#609fd0"/>
<rect x="119.3" y="198.36" width="8.4" height="6.78" fill="#234f8e"/>
<rect x="127.7" y="198.36" width="8.4" height="6.78" fill="#609fd0"/>
<rect x="136.1" y="198.36" width="8.4" height="6.78" fill="#d3473a"/>
<rect x="144.5" y="198.36" width="8.4" height="6.78" fill="#e1ecf7"/>
<rect x="152.9" y="198.36" width="8.4" height="6.78" fill="#c8dcef"/>
<rect x="161.3" y="198.36" width="8.4" height="6.78" fill="#ffffff"/>
<rect x="169.7" y="198.36" width="8.4" height="6.78" fill="#c8dcef"/>
<rect x="178.1" y="198.36" width="8.4" height="6.78" fill="#c8dcef"/>
<rect x="186.5" y="198.36" width="8.4" height="6.78" fill="#e1ecf7"/>
<rect x="194.9" y="198.36" width="8.4" height="6.78" fill="#c8dcef"/>
<rect x="203.3" y="198.36" width="8.4" height="6.78" fill="#ffffff"/>
<rect x="211.7" y="198.36" width="8.4" height="6.78" fill="#e1ecf7"/>
<rect x="220.1" y="198.36" width="8.4" height="6.78" fill="#e1ecf7"/>
<rect x="228.5" y="198.36" width="8.4" height="6.78" fill="#c8dcef"/>
<rect x="236.9" y="198.36" width="8.4" height="6.78" fill="#a6cae5"/>
<rect x="245.3" y="198.36" width="8.4" height="6.78" fill="#d3473a"/>
<rect x="253.7" y="198.36" width="8.4" height="6.78" fill="#8c1422"/>
<rect x="94.1" y="205.14" width="8.4" height="6.78" fill="#ec8460"/>
<rect x="102.5" y="205.14" width="8.4" height="6.78" fill="#82b4db"/>
<rect x="110.9" y="205.14" width="8.4" height="6.78" fill="#4a8ac3"/>
<rect x="119.3" y="205.14" width="8.4" height="6.78" fill="#4a8ac3"/>
<rect x="127.7" y="205.14" width="8.4" height="6.78" fill="#609fd0"/>
<rect x="136.1" y="205.14" width="8.4" height="6.78" fill="#ec8460"/>
<rect x="144.5" y="205.14" width="8.4" height="6.78" fill="#e1ecf7"/>
<rect x="152.9" y="205.14" width="8.4" height="6.78" fill="#ffffff"/>
<rect x="161.3" y="205.14" width="8.4" height="6.78" fill="#e1ecf7"/>
<rect x="169.7" y="205.14" width="8.4" height="6.78" fill="#a6cae5"/>
<rect x="178.1" y="205.14" width="8.4" height="6.78" fill="#e1ecf7"/>
<rect x="186.5" y="205.14" width="8.4" height="6.78" fill="#c8dcef"/>
<rect x="194.9" y="205.14" width="8.4" height="6.78" fill="#a6cae5"/>
<rect x="203.3" y="205.14" width="8.4" height="6.78" fill="#ffffff"/>
<rect x="211.7" y="205.14" width="8.4" height="6.78" fill="#ffffff"/>
<rect x="220.1" y="205.14" width="8.4" height="6.78" fill="#234f8e"/>
<rect x="228.5" y="205.14" width="8.4" height="6.78" fill="#c8dcef"/>
<rect x="236.9" y="205.14" width="8.4" height="6.78" fill="#c8dcef"/>
<rect x="245.3" y="205.14" width="8.4" height="6.78" fill="#fdd5bc"/>
<rect x="253.7" y="205.14" width="8.4" height="6.78" fill="#8c1422"/>
<rect x="94.1" y="211.92" width="8.4" height="6.78" fill="#ec8460"/>
<rect x="102.5" y="211.92" width="8.4" height="6.78" fill="#82b4db"/>
<rect x="110.9" y="211.92" width="8.4" height="6.78" fill="#fdd5bc"/>
<rect x="119.3" y="211.92" width="8.4" height="6.78" fill="#609fd0"/>
<rect x="127.7" y="211.92" width="8.4" height="6.78" fill="#4a8ac3"/>
<rect x="136.1" y="211.92" width="8.4" height="6.78" fill="#d3473a"/>
<rect x="144.5" y="211.92" width="8.4" height="6.78" fill="#e1ecf7"/>
<rect x="152.9" y="211.92" width="8.4" height="6.78" fill="#c8dcef"/>
<rect x="161.3" y="211.92" width="8.4" height="6.78" fill="#ffffff"/>
<rect x="169.7" y="211.92" width="8.4" height="6.78" fill="#e1ecf7"/>
<rect x="178.1" y="211.92" width="8.4" height="6.78" fill="#e1ecf7"/>
<rect x="186.5" y="211.92" width="8.4" height="6.78" fill="#e1ecf7"/>
<rect x="194.9" y="211.92" width="8.4" height="6.78" fill="#c8dcef"/>
<rect x="203.3" y="211.92" width="8.4" height="6.78" fill="#ffffff"/>
<rect x="211.7" y="211.92" width="8.4" height="6.78" fill="#ffffff"/>
<rect x="220.1" y="211.92" width="8.4" height="6.78" fill="#a6cae5"/>
<rect x="228.5" y="211.92" width="8.4" height="6.78" fill="#c8dcef"/>
<rect x="236.9" y="211.92" width="8.4" height="6.78" fill="#fdd5bc"/>
<rect x="245.3" y="211.92" width="8.4" height="6.78" fill="#b82a2a"/>
<rect x="253.7" y="211.92" width="8.4" height="6.78" fill="#8c1422"/>
<rect x="94.1" y="218.7" width="8.4" height="6.78" fill="#ec8460"/>
<rect x="102.5" y="218.7" width="8.4" height="6.78" fill="#609fd0"/>
<rect x="110.9" y="218.7" width="8.4" height="6.78" fill="#4a8ac3"/>
<rect x="119.3" y="218.7" width="8.4" height="6.78" fill="#82b4db"/>
<rect x="127.7" y="218.7" width="8.4" height="6.78" fill="#609fd0"/>
<rect x="136.1" y="218.7" width="8.4" height="6.78" fill="#d3473a"/>
<rect x="144.5" y="218.7" width="8.4" height="6.78" fill="#e1ecf7"/>
<rect x="152.9" y="218.7" width="8.4" height="6.78" fill="#e1ecf7"/>
<rect x="161.3" y="218.7" width="8.4" height="6.78" fill="#ffffff"/>
<rect x="169.7" y="218.7" width="8.4" height="6.78" fill="#e1ecf7"/>
<rect x="178.1" y="218.7" width="8.4" height="6.78" fill="#e1ecf7"/>
<rect x="186.5" y="218.7" width="8.4" height="6.78" fill="#e1ecf7"/>
<rect x="194.9" y="218.7" width="8.4" height="6.78" fill="#c8dcef"/>
<rect x="203.3" y="218.7" width="8.4" height="6.78" fill="#ffffff"/>
<rect x="211.7" y="218.7" width="8.4" height="6.78" fill="#ffffff"/>
<rect x="220.1" y="218.7" width="8.4" height="6.78" fill="#c8dcef"/>
<rect x="228.5" y="218.7" width="8.4" height="6.78" fill="#a6cae5"/>
<rect x="236.9" y="218.7" width="8.4" height="6.78" fill="#d3473a"/>
<rect x="245.3" y="218.7" width="8.4" height="6.78" fill="#b82a2a"/>
<rect x="253.7" y="218.7" width="8.4" height="6.78" fill="#8c1422"/>
<line x1="94.1" y1="49.2" x2="94.1" y2="225.48" stroke="#1c1c1c" stroke-width="0.9"/>
<line x1="102.5" y1="49.2" x2="102.5" y2="225.48" stroke="#1c1c1c" stroke-width="0.9"/>
<line x1="110.9" y1="49.2" x2="110.9" y2="225.48" stroke="#1c1c1c" stroke-width="0.9"/>
<line x1="119.3" y1="49.2" x2="119.3" y2="225.48" stroke="#1c1c1c" stroke-width="0.9"/>
<line x1="127.7" y1="49.2" x2="127.7" y2="225.48" stroke="#1c1c1c" stroke-width="0.9"/>
<line x1="136.1" y1="49.2" x2="136.1" y2="225.48" stroke="#1c1c1c" stroke-width="0.9"/>
<line x1="144.5" y1="49.2" x2="144.5" y2="225.48" stroke="#1c1c1c" stroke-width="0.9"/>
<line x1="152.9" y1="49.2" x2="152.9" y2="225.48" stroke="#1c1c1c" stroke-width="0.9"/>
<line x1="161.3" y1="49.2" x2="161.3" y2="225.48" stroke="#1c1c1c" stroke-width="0.9"/>
<line x1="169.7" y1="49.2" x2="169.7" y2="225.48" stroke="#1c1c1c" stroke-width="0.9"/>
<line x1="178.1" y1="49.2" x2="178.1" y2="225.48" stroke="#1c1c1c" stroke-width="0.9"/>
<line x1="186.5" y1="49.2" x2="186.5" y2="225.48" stroke="#1c1c1c" stroke-width="0.9"/>
<line x1="194.9" y1="49.2" x2="194.9" y2="225.48" stroke="#1c1c1c" stroke-width="0.9"/>
<line x1="203.3" y1="49.2" x2="203.3" y2="225.48" stroke="#1c1c1c" stroke-width="0.9"/>
<line x1="211.7" y1="49.2" x2="211.7" y2="225.48" stroke="#1c1c1c" stroke-width="0.9"/>
<line x1="220.1" y1="49.2" x2="220.1" y2="225.48" stroke="#1c1c1c" stroke-width="0.9"/>
<line x1="228.5" y1="49.2" x2="228.5" y2="225.48" stroke="#1c1c1c" stroke-width="0.9"/>
<line x1="236.9" y1="49.2" x2="236.9" y2="225.48" stroke="#1c1c1c" stroke-width="0.9"/>
<line x1="245.3" y1="49.2" x2="245.3" y2="225.48" stroke="#1c1c1c" stroke-width="0.9"/>
<line x1="253.7" y1="49.2" x2="253.7" y2="225.48" stroke="#1c1c1c" stroke-width="0.9"/>
<line x1="262.1" y1="49.2" x2="262.1" y2="225.48" stroke="#1c1c1c" stroke-width="0.9"/>
<line x1="94.1" y1="49.2" x2="262.1" y2="49.2" stroke="#1c1c1c" stroke-width="0.9"/>
<line x1="94.1" y1="55.98" x2="262.1" y2="55.98" stroke="#1c1c1c" stroke-width="0.9"/>
<line x1="94.1" y1="62.76" x2="262.1" y2="62.76" stroke="#1c1c1c" stroke-width="0.9"/>
<line x1="94.1" y1="69.54" x2="262.1" y2="69.54" stroke="#1c1c1c" stroke-width="0.9"/>
<line x1="94.1" y1="76.32" x2="262.1" y2="76.32" stroke="#1c1c1c" stroke-width="0.9"/>
<line x1="94.1" y1="83.1" x2="262.1" y2="83.1" stroke="#1c1c1c" stroke-width="0.9"/>
<line x1="94.1" y1="89.88" x2="262.1" y2="89.88" stroke="#1c1c1c" stroke-width="0.9"/>
<line x1="94.1" y1="96.66" x2="262.1" y2="96.66" stroke="#1c1c1c" stroke-width="0.9"/>
<line x1="94.1" y1="103.44" x2="262.1" y2="103.44" stroke="#1c1c1c" stroke-width="0.9"/>
<line x1="94.1" y1="110.22" x2="262.1" y2="110.22" stroke="#1c1c1c" stroke-width="0.9"/>
<line x1="94.1" y1="117" x2="262.1" y2="117" stroke="#1c1c1c" stroke-width="0.9"/>
<line x1="94.1" y1="123.78" x2="262.1" y2="123.78" stroke="#1c1c1c" stroke-width="0.9"/>
<line x1="94.1" y1="130.56" x2="262.1" y2="130.56" stroke="#1c1c1c" stroke-width="0.9"/>
<line x1="94.1" y1="137.34" x2="262.1" y2="137.34" stroke="#1c1c1c" stroke-width="0.9"/>
<line x1="94.1" y1="144.12" x2="262.1" y2="144.12" stroke="#1c1c1c" stroke-width="0.9"/>
<line x1="94.1" y1="150.9" x2="262.1" y2="150.9" stroke="#1c1c1c" stroke-width="0.9"/>
<line x1="94.1" y1="157.68" x2="262.1" y2="157.68" stroke="#1c1c1c" stroke-width="0.9"/>
<line x1="94.1" y1="164.46" x2="262.1" y2="164.46" stroke="#1c1c1c" stroke-width="0.9"/>
<line x1="94.1" y1="171.24" x2="262.1" y2="171.24" stroke="#1c1c1c" stroke-width="0.9"/>
<line x1="94.1" y1="178.02" x2="262.1" y2="178.02" stroke="#1c1c1c" stroke-width="0.9"/>
<line x1="94.1" y1="184.8" x2="262.1" y2="184.8" stroke="#1c1c1c" stroke-width="0.9"/>
<line x1="94.1" y1="191.58" x2="262.1" y2="191.58" stroke="#1c1c1c" stroke-width="0.9"/>
<line x1="94.1" y1="198.36" x2="262.1" y2="198.36" stroke="#1c1c1c" stroke-width="0.9"/>
<line x1="94.1" y1="205.14" x2="262.1" y2="205.14" stroke="#1c1c1c" stroke-width="0.9"/>
<line x1="94.1" y1="211.92" x2="262.1" y2="211.92" stroke="#1c1c1c" stroke-width="0.9"/>
<line x1="94.1" y1="218.7" x2="262.1" y2="218.7" stroke="#1c1c1c" stroke-width="0.9"/>
<line x1="94.1" y1="225.48" x2="262.1" y2="225.48" stroke="#1c1c1c" stroke-width="0.9"/>
<rect x="84.6" y="49.2" width="8.1" height="6.78" fill="#93d66f" stroke="#333" stroke-width="0.6"/>
<rect x="84.6" y="55.98" width="8.1" height="6.78" fill="#1f8a3d" stroke="#333" stroke-width="0.6"/>
<rect x="84.6" y="62.76" width="8.1" height="6.78" fill="#93d66f" stroke="#333" stroke-width="0.6"/>
<rect x="84.6" y="69.54" width="8.1" height="13.56" fill="#1f8a3d" stroke="#333" stroke-width="0.6"/>
<rect x="84.6" y="83.1" width="8.1" height="13.56" fill="#e8c3d8" stroke="#333" stroke-width="0.6"/>
<rect x="84.6" y="96.66" width="8.1" height="6.78" fill="#e08fc2" stroke="#333" stroke-width="0.6"/>
<rect x="84.6" y="103.44" width="8.1" height="6.78" fill="#e8c3d8" stroke="#333" stroke-width="0.6"/>
<rect x="84.6" y="110.22" width="8.1" height="13.56" fill="#e0568f" stroke="#333" stroke-width="0.6"/>
<rect x="84.6" y="123.78" width="8.1" height="6.78" fill="#ab3f73" stroke="#333" stroke-width="0.6"/>
<rect x="84.6" y="130.56" width="8.1" height="13.56" fill="#e8c3d8" stroke="#333" stroke-width="0.6"/>
<rect x="84.6" y="144.12" width="8.1" height="13.56" fill="#4b7dc5" stroke="#333" stroke-width="0.6"/>
<rect x="84.6" y="157.68" width="8.1" height="6.78" fill="#8ec6ea" stroke="#333" stroke-width="0.6"/>
<rect x="84.6" y="164.46" width="8.1" height="13.56" fill="#e8c3d8" stroke="#333" stroke-width="0.6"/>
<rect x="84.6" y="178.02" width="8.1" height="6.78" fill="#e0568f" stroke="#333" stroke-width="0.6"/>
<rect x="84.6" y="184.8" width="8.1" height="6.78" fill="#d6e9f6" stroke="#333" stroke-width="0.6"/>
<rect x="84.6" y="191.58" width="8.1" height="33.9" fill="#ffffff" stroke="#333" stroke-width="0.6"/>
<text x="82.9" y="55.49" font-size="8.2" text-anchor="end" fill="#93d66f" stroke="#93d66f">BpV1</text>
<text x="82.9" y="62.27" font-size="8.2" text-anchor="end" fill="#1d8a3b" stroke="#1d8a3b" font-weight="bold">BII-V1</text>
<text x="82.9" y="69.05" font-size="8.2" text-anchor="end" fill="#93d66f" stroke="#93d66f">BpV2</text>
<text x="82.9" y="75.83" font-size="8.2" text-anchor="end" fill="#1d8a3b" stroke="#1d8a3b" font-weight="bold">BII-V2</text>
<text x="82.9" y="82.61" font-size="8.2" text-anchor="end" fill="#1d8a3b" stroke="#1d8a3b" font-weight="bold">BII-V3</text>
<text x="82.9" y="89.39" font-size="8.2" text-anchor="end" fill="#e3b9cf" stroke="#e3b9cf">OlV6</text>
<text x="82.9" y="96.17" font-size="8.2" text-anchor="end" fill="#e3b9cf" stroke="#e3b9cf">OlV5</text>
<text x="82.9" y="102.95" font-size="8.2" text-anchor="end" fill="#df86bd" stroke="#df86bd">OtV2</text>
<text x="82.9" y="109.73" font-size="8.2" text-anchor="end" fill="#e3b9cf" stroke="#e3b9cf">OlV7</text>
<text x="82.9" y="116.51" font-size="8.2" text-anchor="end" fill="#df4f8a" stroke="#df4f8a">OtV1</text>
<text x="82.9" y="123.29" font-size="8.2" text-anchor="end" fill="#df4f8a" stroke="#df4f8a">OtV5</text>
<text x="82.9" y="130.07" font-size="8.2" text-anchor="end" fill="#a63a6d" stroke="#a63a6d">OmV1</text>
<text x="82.9" y="136.85" font-size="8.2" text-anchor="end" fill="#e3b9cf" stroke="#e3b9cf">OlV1</text>
<text x="82.9" y="143.63" font-size="8.2" text-anchor="end" fill="#e3b9cf" stroke="#e3b9cf">OlV4</text>
<text x="82.9" y="150.41" font-size="8.2" text-anchor="end" fill="#4b7dc5" stroke="#4b7dc5">MpV-SP1</text>
<text x="82.9" y="157.19" font-size="8.2" text-anchor="end" fill="#4b7dc5" stroke="#4b7dc5">MpV-PL1</text>
<text x="82.9" y="163.97" font-size="8.2" text-anchor="end" fill="#84c0e8" stroke="#84c0e8">MpV1</text>
<text x="82.9" y="170.75" font-size="8.2" text-anchor="end" fill="#e3b9cf" stroke="#e3b9cf">OlV3</text>
<text x="82.9" y="177.53" font-size="8.2" text-anchor="end" fill="#e3b9cf" stroke="#e3b9cf">OlV2</text>
<text x="82.9" y="184.31" font-size="8.2" text-anchor="end" fill="#df4f8a" stroke="#df4f8a">OtV6</text>
<text x="82.9" y="191.09" font-size="8.2" text-anchor="end" fill="#cfe5f5" stroke="#cfe5f5">MpV-12T</text>
<text x="82.9" y="197.87" font-size="8.2" text-anchor="end" fill="#1a1a1a" stroke="#1a1a1a">AtCV-1</text>
<text x="82.9" y="204.65" font-size="8.2" text-anchor="end" fill="#1a1a1a" stroke="#1a1a1a">PbCV-1</text>
<text x="82.9" y="211.43" font-size="8.2" text-anchor="end" fill="#1a1a1a" stroke="#1a1a1a">PbCV-FR483</text>
<text x="82.9" y="218.21" font-size="8.2" text-anchor="end" fill="#1a1a1a" stroke="#1a1a1a">PbCV-AR158</text>
<text x="82.9" y="224.99" font-size="8.2" text-anchor="end" fill="#1a1a1a" stroke="#1a1a1a">PbCV-NY2A</text>
<text transform="translate(100.7 228.68) rotate(-52.5) scale(0.926 1)" font-size="7.72" text-anchor="end" fill="#222" stroke="#222" stroke-width="0.1">Prot. modif., turnover, chaperone</text>
<text transform="translate(109.1 228.68) rotate(-52.5) scale(0.926 1)" font-size="7.72" text-anchor="end" fill="#222" stroke="#222" stroke-width="0.1">Transcription</text>
<text transform="translate(117.5 228.68) rotate(-52.5) scale(0.926 1)" font-size="7.72" text-anchor="end" fill="#222" stroke="#222" stroke-width="0.1">Carbohydrate metabolism and transport</text>
<text transform="translate(125.9 228.68) rotate(-52.5) scale(0.926 1)" font-size="7.72" text-anchor="end" fill="#222" stroke="#222" stroke-width="0.1">Nucleotide metabolism and transport</text>
<text transform="translate(134.3 228.68) rotate(-52.5) scale(0.926 1)" font-size="7.72" text-anchor="end" fill="#222" stroke="#222" stroke-width="0.1">Amino acid metabolism and transport</text>
<text transform="translate(142.7 228.68) rotate(-52.5) scale(0.926 1)" font-size="7.72" text-anchor="end" fill="#222" stroke="#222" stroke-width="0.1">Cell wall/membrane/envelop biogenesis</text>
<text transform="translate(151.1 228.68) rotate(-52.5) scale(0.926 1)" font-size="7.72" text-anchor="end" fill="#222" stroke="#222" stroke-width="0.1">Lipid metabolism</text>
<text transform="translate(159.5 228.68) rotate(-52.5) scale(0.926 1)" font-size="7.72" text-anchor="end" fill="#222" stroke="#222" stroke-width="0.1">Energy production and conversion</text>
<text transform="translate(167.9 228.68) rotate(-52.5) scale(0.926 1)" font-size="7.72" text-anchor="end" fill="#222" stroke="#222" stroke-width="0.1">Coenzyme metabolism</text>
<text transform="translate(176.3 228.68) rotate(-52.5) scale(0.926 1)" font-size="7.72" text-anchor="end" fill="#222" stroke="#222" stroke-width="0.1">Inorganic ion transport and metabolism</text>
<text transform="translate(184.7 228.68) rotate(-52.5) scale(0.926 1)" font-size="7.72" text-anchor="end" fill="#222" stroke="#222" stroke-width="0.1">Intracellular trafficking and secretion</text>
<text transform="translate(193.1 228.68) rotate(-52.5) scale(0.926 1)" font-size="7.72" text-anchor="end" fill="#222" stroke="#222" stroke-width="0.1">Secondary metabolite</text>
<text transform="translate(201.5 228.68) rotate(-52.5) scale(0.926 1)" font-size="7.72" text-anchor="end" fill="#222" stroke="#222" stroke-width="0.1">Cell cycle control and mitosis</text>
<text transform="translate(209.9 228.68) rotate(-52.5) scale(0.926 1)" font-size="7.72" text-anchor="end" fill="#222" stroke="#222" stroke-width="0.1">Cytoskeleton</text>
<text transform="translate(218.3 228.68) rotate(-52.5) scale(0.926 1)" font-size="7.72" text-anchor="end" fill="#222" stroke="#222" stroke-width="0.1">Extracellular structures</text>
<text transform="translate(226.7 228.68) rotate(-52.5) scale(0.926 1)" font-size="7.72" text-anchor="end" fill="#222" stroke="#222" stroke-width="0.1">Signal transduction</text>
<text transform="translate(235.1 228.68) rotate(-52.5) scale(0.926 1)" font-size="7.72" text-anchor="end" fill="#222" stroke="#222" stroke-width="0.1">RNA processing and modification</text>
<text transform="translate(243.5 228.68) rotate(-52.5) scale(0.926 1)" font-size="7.72" text-anchor="end" fill="#222" stroke="#222" stroke-width="0.1">Defense mechanisms</text>
<text transform="translate(251.9 228.68) rotate(-52.5) scale(0.926 1)" font-size="7.72" text-anchor="end" fill="#222" stroke="#222" stroke-width="0.1">Replication and repair</text>
<text transform="translate(260.3 228.68) rotate(-52.5) scale(0.926 1)" font-size="7.72" text-anchor="end" fill="#222" stroke="#222" stroke-width="0.1">Function unknown</text>
<path d="M98.3 49.2 V45.2 H106.7 V49.2" stroke="#555" stroke-width="0.6" fill="none"/>
<path d="M115.1 49.2 V46.6 H123.5 V49.2" stroke="#555" stroke-width="0.6" fill="none"/>
<path d="M119.3 46.6 V45.8 H131.9 V49.2" stroke="#555" stroke-width="0.6" fill="none"/>
<path d="M102.5 45.2 V43.4 H125.6 V45.8" stroke="#555" stroke-width="0.6" fill="none"/>
<path d="M114.05 43.4 V42.6 H140.3 V49.2" stroke="#555" stroke-width="0.6" fill="none"/>
<path d="M148.7 49.2 V47.9 H157.1 V49.2" stroke="#777" stroke-width="0.6" fill="none"/>
<path d="M165.5 49.2 V47.6 H173.9 V49.2" stroke="#777" stroke-width="0.6" fill="none"/>
<path d="M182.3 49.2 V47.8 H190.7 V49.2" stroke="#777" stroke-width="0.6" fill="none"/>
<path d="M199.1 49.2 V47.4 H207.5 V49.2" stroke="#777" stroke-width="0.6" fill="none"/>
<path d="M215.9 49.2 V47 H224.3 V49.2" stroke="#777" stroke-width="0.6" fill="none"/>
<path d="M152.9 47.9 V46.6 H169.7 V47.6" stroke="#888" stroke-width="0.6" fill="none"/>
<path d="M186.5 47.8 V46.4 H203.3 V47.4" stroke="#888" stroke-width="0.6" fill="none"/>
<path d="M161.3 46.6 V45.8 H194.9 V46.4" stroke="#888" stroke-width="0.6" fill="none"/>
<path d="M220.1 47 V46.2 H232.7 V49.2" stroke="#888" stroke-width="0.6" fill="none"/>
<path d="M178.1 45.8 V45.3 H226.4 V46.2" stroke="#777" stroke-width="0.6" fill="none"/>
<path d="M202.25 45.3 V44.6 H241.1 V49.2" stroke="#555" stroke-width="0.6" fill="none"/>
<path d="M127.18 42.6 V38.6 H221.68 V44.6" stroke="#555" stroke-width="0.6" fill="none"/>
<path d="M175.7 38.6 V26.5 H249.5 V49.2" stroke="#555" stroke-width="0.6" fill="none"/>
<path d="M212.6 26.5 V3.3 H257.9 V49.2" stroke="#555" stroke-width="0.6" fill="none"/>
<line x1="26" y1="52.59" x2="26" y2="59.37" stroke="#8a8a8a" stroke-width="0.6"/>
<line x1="26" y1="52.59" x2="29.6" y2="52.59" stroke="#8a8a8a" stroke-width="0.6"/>
<line x1="26" y1="59.37" x2="29.6" y2="59.37" stroke="#8a8a8a" stroke-width="0.6"/>
<line x1="23.9" y1="55.9" x2="23.9" y2="66.15" stroke="#8a8a8a" stroke-width="0.6"/>
<line x1="23.9" y1="55.9" x2="26" y2="55.9" stroke="#8a8a8a" stroke-width="0.6"/>
<line x1="23.9" y1="66.15" x2="27.5" y2="66.15" stroke="#8a8a8a" stroke-width="0.6"/>
<line x1="19.7" y1="61" x2="19.7" y2="72.93" stroke="#8a8a8a" stroke-width="0.6"/>
<line x1="19.7" y1="61" x2="23.9" y2="61" stroke="#8a8a8a" stroke-width="0.6"/>
<line x1="19.7" y1="72.93" x2="23.3" y2="72.93" stroke="#8a8a8a" stroke-width="0.6"/>
<line x1="15.8" y1="67" x2="15.8" y2="79.71" stroke="#8a8a8a" stroke-width="0.6"/>
<line x1="15.8" y1="67" x2="19.7" y2="67" stroke="#8a8a8a" stroke-width="0.6"/>
<line x1="15.8" y1="79.71" x2="19.4" y2="79.71" stroke="#8a8a8a" stroke-width="0.6"/>
<line x1="28.8" y1="86.49" x2="28.8" y2="93.27" stroke="#8a8a8a" stroke-width="0.6"/>
<line x1="28.8" y1="86.49" x2="32.4" y2="86.49" stroke="#8a8a8a" stroke-width="0.6"/>
<line x1="28.8" y1="93.27" x2="32.4" y2="93.27" stroke="#8a8a8a" stroke-width="0.6"/>
<line x1="27.9" y1="89.6" x2="27.9" y2="100.05" stroke="#8a8a8a" stroke-width="0.6"/>
<line x1="27.9" y1="89.6" x2="28.8" y2="89.6" stroke="#8a8a8a" stroke-width="0.6"/>
<line x1="27.9" y1="100.05" x2="31.5" y2="100.05" stroke="#8a8a8a" stroke-width="0.6"/>
<line x1="26.7" y1="95" x2="26.7" y2="106.83" stroke="#8a8a8a" stroke-width="0.6"/>
<line x1="26.7" y1="95" x2="27.9" y2="95" stroke="#8a8a8a" stroke-width="0.6"/>
<line x1="26.7" y1="106.83" x2="30.3" y2="106.83" stroke="#8a8a8a" stroke-width="0.6"/>
<line x1="29" y1="113.61" x2="29" y2="120.39" stroke="#8a8a8a" stroke-width="0.6"/>
<line x1="29" y1="113.61" x2="32.6" y2="113.61" stroke="#8a8a8a" stroke-width="0.6"/>
<line x1="29" y1="120.39" x2="32.6" y2="120.39" stroke="#8a8a8a" stroke-width="0.6"/>
<line x1="29.7" y1="127.17" x2="29.7" y2="133.95" stroke="#8a8a8a" stroke-width="0.6"/>
<line x1="29.7" y1="127.17" x2="33.3" y2="127.17" stroke="#8a8a8a" stroke-width="0.6"/>
<line x1="29.7" y1="133.95" x2="33.3" y2="133.95" stroke="#8a8a8a" stroke-width="0.6"/>
<line x1="27.3" y1="116.9" x2="27.3" y2="130.4" stroke="#8a8a8a" stroke-width="0.6"/>
<line x1="27.3" y1="116.9" x2="29" y2="116.9" stroke="#8a8a8a" stroke-width="0.6"/>
<line x1="27.3" y1="130.4" x2="29.7" y2="130.4" stroke="#8a8a8a" stroke-width="0.6"/>
<line x1="24.1" y1="100.6" x2="24.1" y2="123.4" stroke="#8a8a8a" stroke-width="0.6"/>
<line x1="24.1" y1="100.6" x2="26.7" y2="100.6" stroke="#8a8a8a" stroke-width="0.6"/>
<line x1="24.1" y1="123.4" x2="27.3" y2="123.4" stroke="#8a8a8a" stroke-width="0.6"/>
<line x1="21.7" y1="112" x2="21.7" y2="140.73" stroke="#8a8a8a" stroke-width="0.6"/>
<line x1="21.7" y1="112" x2="24.1" y2="112" stroke="#8a8a8a" stroke-width="0.6"/>
<line x1="21.7" y1="140.73" x2="25.3" y2="140.73" stroke="#8a8a8a" stroke-width="0.6"/>
<line x1="25.8" y1="147.51" x2="25.8" y2="154.29" stroke="#8a8a8a" stroke-width="0.6"/>
<line x1="25.8" y1="147.51" x2="29.4" y2="147.51" stroke="#8a8a8a" stroke-width="0.6"/>
<line x1="25.8" y1="154.29" x2="29.4" y2="154.29" stroke="#8a8a8a" stroke-width="0.6"/>
<line x1="24.8" y1="150.9" x2="24.8" y2="161.07" stroke="#8a8a8a" stroke-width="0.6"/>
<line x1="24.8" y1="150.9" x2="25.8" y2="150.9" stroke="#8a8a8a" stroke-width="0.6"/>
<line x1="24.8" y1="161.07" x2="28.4" y2="161.07" stroke="#8a8a8a" stroke-width="0.6"/>
<line x1="28.7" y1="167.85" x2="28.7" y2="174.63" stroke="#8a8a8a" stroke-width="0.6"/>
<line x1="28.7" y1="167.85" x2="32.3" y2="167.85" stroke="#8a8a8a" stroke-width="0.6"/>
<line x1="28.7" y1="174.63" x2="32.3" y2="174.63" stroke="#8a8a8a" stroke-width="0.6"/>
<line x1="26.7" y1="171.1" x2="26.7" y2="181.41" stroke="#8a8a8a" stroke-width="0.6"/>
<line x1="26.7" y1="171.1" x2="28.7" y2="171.1" stroke="#8a8a8a" stroke-width="0.6"/>
<line x1="26.7" y1="181.41" x2="30.3" y2="181.41" stroke="#8a8a8a" stroke-width="0.6"/>
<line x1="25" y1="176.3" x2="25" y2="188.19" stroke="#8a8a8a" stroke-width="0.6"/>
<line x1="25" y1="176.3" x2="26.7" y2="176.3" stroke="#8a8a8a" stroke-width="0.6"/>
<line x1="25" y1="188.19" x2="28.6" y2="188.19" stroke="#8a8a8a" stroke-width="0.6"/>
<line x1="22.1" y1="155.7" x2="22.1" y2="182.2" stroke="#8a8a8a" stroke-width="0.6"/>
<line x1="22.1" y1="155.7" x2="24.8" y2="155.7" stroke="#8a8a8a" stroke-width="0.6"/>
<line x1="22.1" y1="182.2" x2="25" y2="182.2" stroke="#8a8a8a" stroke-width="0.6"/>
<line x1="16.9" y1="126.4" x2="16.9" y2="169" stroke="#8a8a8a" stroke-width="0.6"/>
<line x1="16.9" y1="126.4" x2="21.7" y2="126.4" stroke="#8a8a8a" stroke-width="0.6"/>
<line x1="16.9" y1="169" x2="22.1" y2="169" stroke="#8a8a8a" stroke-width="0.6"/>
<line x1="14" y1="73.2" x2="14" y2="147.7" stroke="#dedede" stroke-width="2"/>
<line x1="14" y1="73.2" x2="15.8" y2="73.2" stroke="#8a8a8a" stroke-width="0.6"/>
<line x1="14" y1="147.7" x2="16.9" y2="147.7" stroke="#8a8a8a" stroke-width="0.6"/>
<line x1="24.8" y1="194.97" x2="24.8" y2="201.75" stroke="#8a8a8a" stroke-width="0.6"/>
<line x1="24.8" y1="194.97" x2="28.4" y2="194.97" stroke="#8a8a8a" stroke-width="0.6"/>
<line x1="24.8" y1="201.75" x2="28.4" y2="201.75" stroke="#8a8a8a" stroke-width="0.6"/>
<line x1="19.4" y1="198.3" x2="19.4" y2="208.53" stroke="#8a8a8a" stroke-width="0.6"/>
<line x1="19.4" y1="198.3" x2="24.8" y2="198.3" stroke="#8a8a8a" stroke-width="0.6"/>
<line x1="19.4" y1="208.53" x2="23" y2="208.53" stroke="#8a8a8a" stroke-width="0.6"/>
<line x1="21.5" y1="215.31" x2="21.5" y2="222.09" stroke="#8a8a8a" stroke-width="0.6"/>
<line x1="21.5" y1="215.31" x2="25.1" y2="215.31" stroke="#8a8a8a" stroke-width="0.6"/>
<line x1="21.5" y1="222.09" x2="25.1" y2="222.09" stroke="#8a8a8a" stroke-width="0.6"/>
<line x1="13.7" y1="203.4" x2="13.7" y2="218.6" stroke="#8a8a8a" stroke-width="0.6"/>
<line x1="13.7" y1="203.4" x2="19.4" y2="203.4" stroke="#8a8a8a" stroke-width="0.6"/>
<line x1="13.7" y1="218.6" x2="21.5" y2="218.6" stroke="#8a8a8a" stroke-width="0.6"/>
<line x1="5.4" y1="110.5" x2="5.4" y2="210.9" stroke="#777" stroke-width="0.8"/>
<line x1="5.4" y1="110.5" x2="14" y2="110.5" stroke="#777" stroke-width="0.6"/>
<line x1="5.4" y1="210.9" x2="13.7" y2="210.9" stroke="#777" stroke-width="0.6"/>
<circle cx="26" cy="55.9" r="2.05" fill="#111"/>
<circle cx="23.9" cy="61" r="2.05" fill="#111"/>
<circle cx="19.7" cy="67" r="2.05" fill="#111"/>
<circle cx="15.8" cy="73.2" r="2.05" fill="#111"/>
<circle cx="28.8" cy="89.6" r="2.05" fill="#8c8c8c" stroke="#555" stroke-width="0.4"/>
<circle cx="27.9" cy="95" r="2.05" fill="#111"/>
<circle cx="26.7" cy="100.6" r="2.05" fill="#111"/>
<circle cx="24.1" cy="112" r="2.05" fill="#111"/>
<circle cx="29" cy="116.9" r="2.05" fill="#e8e8e8" stroke="#555" stroke-width="0.4"/>
<circle cx="29.7" cy="130.4" r="2.05" fill="#8c8c8c" stroke="#555" stroke-width="0.4"/>
<circle cx="27.3" cy="123.4" r="2.05" fill="#111"/>
<circle cx="21.7" cy="126.4" r="2.05" fill="#111"/>
<circle cx="16.9" cy="147.7" r="2.05" fill="#111"/>
<circle cx="25.8" cy="150.9" r="2.05" fill="#8c8c8c" stroke="#555" stroke-width="0.4"/>
<circle cx="24.8" cy="155.7" r="2.05" fill="#8c8c8c" stroke="#555" stroke-width="0.4"/>
<circle cx="28.7" cy="171.1" r="2.05" fill="#111"/>
<circle cx="26.7" cy="176.3" r="2.05" fill="#111"/>
<circle cx="25" cy="182.2" r="2.05" fill="#111"/>
<circle cx="22.1" cy="169" r="2.05" fill="#111"/>
<circle cx="9.6" cy="110.5" r="2.05" fill="#111"/>
<circle cx="24.8" cy="198.3" r="2.05" fill="#111"/>
<circle cx="19.4" cy="203.4" r="2.05" fill="#111"/>
<circle cx="21.5" cy="218.6" r="2.05" fill="#111"/>
<circle cx="10.2" cy="210.9" r="2.05" fill="#111"/>
<line x1="5.4" y1="226.9" x2="30.6" y2="226.9" stroke="#444" stroke-width="0.7"/>
<line x1="5.4" y1="226.9" x2="5.4" y2="229" stroke="#444" stroke-width="0.6"/>
<line x1="10.44" y1="226.9" x2="10.44" y2="229" stroke="#444" stroke-width="0.6"/>
<line x1="15.48" y1="226.9" x2="15.48" y2="229" stroke="#444" stroke-width="0.6"/>
<line x1="20.52" y1="226.9" x2="20.52" y2="229" stroke="#444" stroke-width="0.6"/>
<line x1="25.56" y1="226.9" x2="25.56" y2="229" stroke="#444" stroke-width="0.6"/>
<line x1="30.6" y1="226.9" x2="30.6" y2="229" stroke="#444" stroke-width="0.6"/>
<text x="3" y="235.6" font-size="7.6" text-anchor="middle" fill="#222" stroke="#222">0.1</text>
<text x="30.6" y="235.6" font-size="7.6" text-anchor="middle" fill="#222" stroke="#222">0.0</text>
<text x="18" y="243.4" font-size="7.6" text-anchor="middle" fill="#222" stroke="#222">Height</text>
<rect x="3.3" y="248.8" width="31.4" height="39.9" fill="#fff" stroke="#777" stroke-width="0.6"/>
<text x="33.6" y="255.2" font-size="6.2" text-anchor="end" fill="#222" stroke="#222">% of node</text>
<text x="33.6" y="261.4" font-size="6.2" text-anchor="end" fill="#222" stroke="#222">support</text>
<line x1="3.3" y1="262.6" x2="34.7" y2="262.6" stroke="#aaa" stroke-width="0.6"/>
<circle cx="12.2" cy="266.6" r="1.5" fill="#fff" stroke="#666" stroke-width="0.4"/>
<text transform="translate(14 269) scale(0.9259 1)" font-size="7.13" fill="#222" stroke="#222">100</text>
<circle cx="12.2" cy="272.2" r="1.5" fill="#111" stroke="#666" stroke-width="0.4"/>
<text transform="translate(14 274.6) scale(0.9259 1)" font-size="7.13" fill="#222" stroke="#222">≥90</text>
<circle cx="12.2" cy="277.8" r="1.5" fill="#8c8c8c" stroke="#666" stroke-width="0.4"/>
<text transform="translate(14 280.2) scale(0.9259 1)" font-size="7.13" fill="#222" stroke="#222">≥80</text>
<circle cx="12.2" cy="283.4" r="1.5" fill="#f4f4f4" stroke="#666" stroke-width="0.4"/>
<text transform="translate(14 285.8) scale(0.9259 1)" font-size="7.13" fill="#222" stroke="#222">≥60</text>
<text transform="translate(273.2 11.3) scale(0.9524 1)" font-size="14.91" stroke="#000" letter-spacing="0.8">B.</text>
<text transform="translate(322.8 13.1) scale(0.9091 1)" font-size="10.56" text-anchor="middle" fill="#1a1a1a" stroke="#1a1a1a">Orthogroup</text>
<text transform="translate(322.8 22.85) scale(0.9091 1)" font-size="10.56" text-anchor="middle" fill="#1a1a1a" stroke="#1a1a1a">distribution</text>
<text transform="translate(322.8 32.6) scale(0.9091 1)" font-size="10.56" text-anchor="middle" fill="#1a1a1a" stroke="#1a1a1a">across all</text>
<text transform="translate(322.8 42.35) scale(0.9091 1)" font-size="10.56" text-anchor="middle" fill="#1a1a1a" stroke="#1a1a1a">prasinoviruses</text>
<path d="M369.6 51.9 V2.2 H437 V2.3 H438.6 V4.4 H450 V7.5 H452 V7.1 H455 V7.8 H458 V9.4 H460 V11.8 H462.2 V14.1 H467.7 V14.9 H470 V15.7 H472.4 V16.5 H474.7 V17.3 H478 V19.6 H480.2 V21.2 H485.7 V23.5 H489.7 V25.9 H492 V26.4 H495 V26.4 H497 V28.2 H504.7 V29.7 H506.2 V30.2 H511.3 V31.2 H515 V32.8 H519 V34.8 H522 V35.3 H525 V37.4 H530.2 V39.9 H547 V40.4 H553.2 V42 H566 V45 H583 V46.5 H587 V47 H621.6 V47 H621.6 V51.9 Z" stroke="none" stroke-width="0" fill="#dcdcdc"/>
<line x1="372" y1="0" x2="372" y2="30" stroke="#fff" stroke-width="0.7"/>
<line x1="373.8" y1="0" x2="373.8" y2="48.7" stroke="#fff" stroke-width="0.7"/>
<line x1="376.5" y1="0" x2="376.5" y2="4" stroke="#fff" stroke-width="0.7"/>
<line x1="388.5" y1="0" x2="388.5" y2="4" stroke="#fff" stroke-width="0.7"/>
<line x1="398" y1="0" x2="398" y2="3.5" stroke="#fff" stroke-width="0.7"/>
<line x1="401" y1="0" x2="401" y2="5" stroke="#fff" stroke-width="0.7"/>
<line x1="403.5" y1="0" x2="403.5" y2="8" stroke="#fff" stroke-width="0.7"/>
<line x1="405" y1="0" x2="405" y2="10" stroke="#fff" stroke-width="0.7"/>
<line x1="411.5" y1="0" x2="411.5" y2="33" stroke="#fff" stroke-width="0.7"/>
<line x1="413.5" y1="0" x2="413.5" y2="5" stroke="#fff" stroke-width="0.7"/>
<line x1="418" y1="0" x2="418" y2="25" stroke="#fff" stroke-width="0.7"/>
<line x1="437.7" y1="0" x2="437.7" y2="15.7" stroke="#fff" stroke-width="0.7"/>
<line x1="445.2" y1="0" x2="445.2" y2="20.4" stroke="#fff" stroke-width="0.7"/>
<line x1="451" y1="0" x2="451" y2="22.8" stroke="#fff" stroke-width="0.7"/>
<line x1="462.8" y1="0" x2="462.8" y2="42.4" stroke="#fff" stroke-width="0.7"/>
<line x1="474" y1="0" x2="474" y2="34.5" stroke="#fff" stroke-width="0.7"/>
<line x1="487.3" y1="0" x2="487.3" y2="42.4" stroke="#fff" stroke-width="0.7"/>
<line x1="497.6" y1="0" x2="497.6" y2="44.5" stroke="#fff" stroke-width="0.7"/>
<line x1="501" y1="0" x2="501" y2="32" stroke="#fff" stroke-width="0.7"/>
<line x1="507.4" y1="0" x2="507.4" y2="46.5" stroke="#fff" stroke-width="0.7"/>
<line x1="510.3" y1="0" x2="510.3" y2="40.4" stroke="#fff" stroke-width="0.7"/>
<line x1="512.4" y1="0" x2="512.4" y2="36" stroke="#fff" stroke-width="0.7"/>
<line x1="517.6" y1="0" x2="517.6" y2="33.8" stroke="#fff" stroke-width="0.7"/>
<line x1="523.2" y1="0" x2="523.2" y2="37.6" stroke="#fff" stroke-width="0.7"/>
<line x1="527.6" y1="0" x2="527.6" y2="40.6" stroke="#fff" stroke-width="0.7"/>
<line x1="548" y1="0" x2="548" y2="43" stroke="#fff" stroke-width="0.7"/>
<line x1="556" y1="0" x2="556" y2="44" stroke="#fff" stroke-width="0.7"/>
<line x1="369.2" y1="1.5" x2="369.2" y2="52" stroke="#444" stroke-width="0.8"/>
<line x1="366.2" y1="3.9" x2="369.2" y2="3.9" stroke="#444" stroke-width="0.8"/>
<line x1="366.2" y1="27.9" x2="369.2" y2="27.9" stroke="#444" stroke-width="0.8"/>
<text transform="translate(365.6 7.4) scale(0.9091 1)" font-size="9.9" text-anchor="end" fill="#222" stroke="#222">20</text>
<text transform="translate(365.6 31.4) scale(0.9091 1)" font-size="9.9" text-anchor="end" fill="#222" stroke="#222">10</text>
<rect x="369.6" y="52" width="82.4" height="11.29" fill="#5468b8"/>
<rect x="369.94" y="52" width="0.66" height="11.29" fill="#fbdcb6"/>
<rect x="371.26" y="52" width="3.29" height="11.29" fill="#95a4d9"/>
<rect x="379.14" y="52" width="2.63" height="11.29" fill="#6c7fc4"/>
<rect x="390.31" y="52" width="3.29" height="11.29" fill="#6c7fc4"/>
<rect x="402.79" y="52" width="3.29" height="11.29" fill="#95a4d9"/>
<rect x="409.33" y="52" width="0.6" height="11.29" fill="#f2ad5c"/>
<rect x="411.34" y="52" width="0.66" height="11.29" fill="#f3f4fb"/>
<rect x="414.62" y="52" width="0.66" height="11.29" fill="#95a4d9"/>
<rect x="419.22" y="52" width="0.66" height="11.29" fill="#95a4d9"/>
<rect x="425.13" y="52" width="1.31" height="11.29" fill="#95a4d9"/>
<rect x="437.35" y="52" width="0.66" height="11.29" fill="#f3f4fb"/>
<rect x="450.49" y="52" width="0.92" height="11.29" fill="#fbdcb6"/>
<rect x="452" y="52" width="84" height="11.29" fill="#ffffff"/>
<rect x="452" y="52" width="7.86" height="11.29" fill="#5468b8"/>
<rect x="454.6" y="52" width="0.66" height="11.29" fill="#6c7fc4"/>
<rect x="457.23" y="52" width="0.66" height="11.29" fill="#6c7fc4"/>
<rect x="462.84" y="52" width="0.6" height="11.29" fill="#cc2a40"/>
<rect x="464.72" y="52" width="2.1" height="11.29" fill="#5468b8"/>
<rect x="478.25" y="52" width="2.63" height="11.29" fill="#b4bee5"/>
<rect x="486.79" y="52" width="1.05" height="11.29" fill="#5468b8"/>
<rect x="497.27" y="52" width="0.6" height="11.29" fill="#fbdcb6"/>
<rect x="505.85" y="52" width="1.31" height="11.29" fill="#5468b8"/>
<rect x="513.07" y="52" width="1.31" height="11.29" fill="#b4bee5"/>
<rect x="518.99" y="52" width="0.66" height="11.29" fill="#5468b8"/>
<rect x="525.95" y="52" width="0.92" height="11.29" fill="#5468b8"/>
<rect x="530.81" y="52" width="5.19" height="11.29" fill="#5468b8"/>
<rect x="534.1" y="52" width="0.66" height="11.29" fill="#6c7fc4"/>
<rect x="536" y="52" width="85.7" height="11.29" fill="#ffffff"/>
<rect x="536" y="52" width="1.94" height="11.29" fill="#5468b8"/>
<rect x="553.45" y="52" width="1.31" height="11.29" fill="#5468b8"/>
<rect x="568.17" y="52" width="0.66" height="11.29" fill="#b4bee5"/>
<rect x="584.2" y="52" width="3.02" height="11.29" fill="#5468b8"/>
<rect x="369.6" y="63.3" width="82.4" height="11.29" fill="#5468b8"/>
<rect x="370.6" y="63.3" width="1.31" height="11.29" fill="#fbdcb6"/>
<rect x="371.91" y="63.3" width="2.63" height="11.29" fill="#95a4d9"/>
<rect x="399.9" y="63.3" width="0.66" height="11.29" fill="#f3f4fb"/>
<rect x="403.84" y="63.3" width="0.92" height="11.29" fill="#95a4d9"/>
<rect x="411.04" y="63.3" width="0.6" height="11.29" fill="#cc2a40"/>
<rect x="416.33" y="63.3" width="0.66" height="11.29" fill="#fbdcb6"/>
<rect x="418.96" y="63.3" width="0.66" height="11.29" fill="#95a4d9"/>
<rect x="437.35" y="63.3" width="0.66" height="11.29" fill="#95a4d9"/>
<rect x="450.1" y="63.3" width="1.9" height="11.29" fill="#95a4d9"/>
<rect x="452" y="63.3" width="84" height="11.29" fill="#ffffff"/>
<rect x="451.49" y="63.3" width="0.6" height="11.29" fill="#b4bee5"/>
<rect x="452" y="63.3" width="7.86" height="11.29" fill="#5468b8"/>
<rect x="460.51" y="63.3" width="1.31" height="11.29" fill="#b4bee5"/>
<rect x="464.72" y="63.3" width="2.1" height="11.29" fill="#5468b8"/>
<rect x="478.25" y="63.3" width="2.63" height="11.29" fill="#b4bee5"/>
<rect x="486.79" y="63.3" width="1.05" height="11.29" fill="#5468b8"/>
<rect x="505.85" y="63.3" width="1.31" height="11.29" fill="#b4bee5"/>
<rect x="513.07" y="63.3" width="1.31" height="11.29" fill="#b4bee5"/>
<rect x="518.99" y="63.3" width="1.97" height="11.29" fill="#b4bee5"/>
<rect x="526.87" y="63.3" width="0.92" height="11.29" fill="#cc2a40"/>
<rect x="530.81" y="63.3" width="3.29" height="11.29" fill="#5468b8"/>
<rect x="534.1" y="63.3" width="1.31" height="11.29" fill="#b4bee5"/>
<rect x="535.41" y="63.3" width="0.59" height="11.29" fill="#5468b8"/>
<rect x="536" y="63.3" width="85.7" height="11.29" fill="#ffffff"/>
<rect x="535.23" y="63.3" width="0.6" height="11.29" fill="#5468b8"/>
<rect x="536" y="63.3" width="0.63" height="11.29" fill="#b4bee5"/>
<rect x="537.29" y="63.3" width="2.23" height="11.29" fill="#5468b8"/>
<rect x="553.97" y="63.3" width="1.31" height="11.29" fill="#5468b8"/>
<rect x="568.17" y="63.3" width="0.66" height="11.29" fill="#b4bee5"/>
<rect x="583.28" y="63.3" width="2.63" height="11.29" fill="#b4bee5"/>
<rect x="587.25" y="63.3" width="0.6" height="11.29" fill="#ee9a3e"/>
<rect x="588.14" y="63.3" width="2.1" height="11.29" fill="#5468b8"/>
<rect x="369.6" y="74.59" width="82.4" height="11.29" fill="#5468b8"/>
<rect x="369.68" y="74.59" width="1.31" height="11.29" fill="#cc2a40"/>
<rect x="371.26" y="74.59" width="3.29" height="11.29" fill="#95a4d9"/>
<rect x="382.78" y="74.59" width="0.6" height="11.29" fill="#fbdcb6"/>
<rect x="403.84" y="74.59" width="0.92" height="11.29" fill="#95a4d9"/>
<rect x="411.04" y="74.59" width="0.6" height="11.29" fill="#cc2a40"/>
<rect x="438.01" y="74.59" width="0.66" height="11.29" fill="#95a4d9"/>
<rect x="444.58" y="74.59" width="0.66" height="11.29" fill="#95a4d9"/>
<rect x="450.49" y="74.59" width="0.66" height="11.29" fill="#f3f4fb"/>
<rect x="452" y="74.59" width="84" height="11.29" fill="#ffffff"/>
<rect x="452" y="74.59" width="7.86" height="11.29" fill="#5468b8"/>
<rect x="462.48" y="74.59" width="1.31" height="11.29" fill="#cc2a40"/>
<rect x="463.8" y="74.59" width="3.02" height="11.29" fill="#b4bee5"/>
<rect x="476.94" y="74.59" width="2.63" height="11.29" fill="#b4bee5"/>
<rect x="486.79" y="74.59" width="1.05" height="11.29" fill="#5468b8"/>
<rect x="498.62" y="74.59" width="0.66" height="11.29" fill="#fbdcb6"/>
<rect x="501.25" y="74.59" width="0.66" height="11.29" fill="#fbdcb6"/>
<rect x="505.85" y="74.59" width="2.63" height="11.29" fill="#5468b8"/>
<rect x="513.07" y="74.59" width="1.31" height="11.29" fill="#5468b8"/>
<rect x="514.29" y="74.59" width="0.6" height="11.29" fill="#fbdcb6"/>
<rect x="518.99" y="74.59" width="0.66" height="11.29" fill="#5468b8"/>
<rect x="522.83" y="74.59" width="0.6" height="11.29" fill="#fbdcb6"/>
<rect x="526.22" y="74.59" width="1.31" height="11.29" fill="#5468b8"/>
<rect x="530.81" y="74.59" width="5.19" height="11.29" fill="#5468b8"/>
<rect x="536" y="74.59" width="85.7" height="11.29" fill="#ffffff"/>
<rect x="536" y="74.59" width="0.63" height="11.29" fill="#5468b8"/>
<rect x="537.64" y="74.59" width="0.6" height="11.29" fill="#b4bee5"/>
<rect x="543.2" y="74.59" width="0.66" height="11.29" fill="#b4bee5"/>
<rect x="545.83" y="74.59" width="0.66" height="11.29" fill="#b4bee5"/>
<rect x="549.11" y="74.59" width="0.66" height="11.29" fill="#b4bee5"/>
<rect x="552.4" y="74.59" width="2.63" height="11.29" fill="#5468b8"/>
<rect x="557" y="74.59" width="0.66" height="11.29" fill="#b4bee5"/>
<rect x="559.23" y="74.59" width="1.31" height="11.29" fill="#5468b8"/>
<rect x="568.17" y="74.59" width="0.66" height="11.29" fill="#b4bee5"/>
<rect x="579.99" y="74.59" width="3.29" height="11.29" fill="#5468b8"/>
<rect x="583.28" y="74.59" width="2.63" height="11.29" fill="#b4bee5"/>
<rect x="589.19" y="74.59" width="0.66" height="11.29" fill="#b4bee5"/>
<rect x="593.13" y="74.59" width="0.66" height="11.29" fill="#b4bee5"/>
<rect x="369.6" y="85.88" width="82.4" height="11.29" fill="#5468b8"/>
<rect x="369.68" y="85.88" width="0.92" height="11.29" fill="#cc2a40"/>
<rect x="371.26" y="85.88" width="3.29" height="11.29" fill="#95a4d9"/>
<rect x="382.78" y="85.88" width="0.6" height="11.29" fill="#fbdcb6"/>
<rect x="399.9" y="85.88" width="2.23" height="11.29" fill="#95a4d9"/>
<rect x="408.05" y="85.88" width="1.97" height="11.29" fill="#f3f4fb"/>
<rect x="411.04" y="85.88" width="0.6" height="11.29" fill="#cc2a40"/>
<rect x="411.99" y="85.88" width="1.97" height="11.29" fill="#95a4d9"/>
<rect x="437.35" y="85.88" width="0.66" height="11.29" fill="#95a4d9"/>
<rect x="443.92" y="85.88" width="0.66" height="11.29" fill="#95a4d9"/>
<rect x="450.49" y="85.88" width="1.51" height="11.29" fill="#fbdcb6"/>
<rect x="452.59" y="85.88" width="0.6" height="11.29" fill="#95a4d9"/>
<rect x="452" y="85.88" width="84" height="11.29" fill="#ffffff"/>
<rect x="451.36" y="85.88" width="0.6" height="11.29" fill="#b4bee5"/>
<rect x="451.55" y="85.88" width="0.6" height="11.29" fill="#fbdcb6"/>
<rect x="453.94" y="85.88" width="5.91" height="11.29" fill="#5468b8"/>
<rect x="462.84" y="85.88" width="0.6" height="11.29" fill="#cc2a40"/>
<rect x="464.45" y="85.88" width="1.31" height="11.29" fill="#b4bee5"/>
<rect x="465.77" y="85.88" width="1.05" height="11.29" fill="#5468b8"/>
<rect x="469.71" y="85.88" width="1.97" height="11.29" fill="#b4bee5"/>
<rect x="477.6" y="85.88" width="2.63" height="11.29" fill="#b4bee5"/>
<rect x="486.79" y="85.88" width="1.31" height="11.29" fill="#5468b8"/>
<rect x="497.31" y="85.88" width="1.31" height="11.29" fill="#fbdcb6"/>
<rect x="501.91" y="85.88" width="1.31" height="11.29" fill="#b4bee5"/>
<rect x="505.19" y="85.88" width="3.29" height="11.29" fill="#b4bee5"/>
<rect x="513.07" y="85.88" width="1.31" height="11.29" fill="#fbdcb6"/>
<rect x="519.65" y="85.88" width="1.31" height="11.29" fill="#b4bee5"/>
<rect x="526.22" y="85.88" width="1.31" height="11.29" fill="#b4bee5"/>
<rect x="532.13" y="85.88" width="3.87" height="11.29" fill="#5468b8"/>
<rect x="536.72" y="85.88" width="0.6" height="11.29" fill="#b4bee5"/>
<rect x="536" y="85.88" width="85.7" height="11.29" fill="#ffffff"/>
<rect x="536" y="85.88" width="1.29" height="11.29" fill="#5468b8"/>
<rect x="537.94" y="85.88" width="2.63" height="11.29" fill="#b4bee5"/>
<rect x="543.2" y="85.88" width="0.66" height="11.29" fill="#b4bee5"/>
<rect x="546.48" y="85.88" width="0.66" height="11.29" fill="#b4bee5"/>
<rect x="548.81" y="85.88" width="0.6" height="11.29" fill="#fbdcb6"/>
<rect x="553.05" y="85.88" width="1.97" height="11.29" fill="#5468b8"/>
<rect x="555.68" y="85.88" width="0.66" height="11.29" fill="#b4bee5"/>
<rect x="560.28" y="85.88" width="0.66" height="11.29" fill="#b4bee5"/>
<rect x="570.79" y="85.88" width="2.63" height="11.29" fill="#b4bee5"/>
<rect x="579.99" y="85.88" width="3.68" height="11.29" fill="#5468b8"/>
<rect x="586.56" y="85.88" width="1.31" height="11.29" fill="#b4bee5"/>
<rect x="618.1" y="85.88" width="3.29" height="11.29" fill="#5468b8"/>
<rect x="369.6" y="97.18" width="82.4" height="11.29" fill="#5468b8"/>
<rect x="369.94" y="97.18" width="1.97" height="11.29" fill="#f2ad5c"/>
<rect x="371.91" y="97.18" width="2.63" height="11.29" fill="#95a4d9"/>
<rect x="382.78" y="97.18" width="0.6" height="11.29" fill="#fbdcb6"/>
<rect x="406.08" y="97.18" width="3.94" height="11.29" fill="#f3f4fb"/>
<rect x="411.04" y="97.18" width="0.6" height="11.29" fill="#cc2a40"/>
<rect x="415.01" y="97.18" width="0.66" height="11.29" fill="#f3f4fb"/>
<rect x="437.35" y="97.18" width="0.66" height="11.29" fill="#95a4d9"/>
<rect x="450.1" y="97.18" width="1.9" height="11.29" fill="#95a4d9"/>
<rect x="452" y="97.18" width="84" height="11.29" fill="#ffffff"/>
<rect x="451.36" y="97.18" width="0.6" height="11.29" fill="#b4bee5"/>
<rect x="452" y="97.18" width="1.29" height="11.29" fill="#5468b8"/>
<rect x="453.94" y="97.18" width="3.94" height="11.29" fill="#5468b8"/>
<rect x="458.54" y="97.18" width="1.31" height="11.29" fill="#b4bee5"/>
<rect x="460.51" y="97.18" width="1.97" height="11.29" fill="#b4bee5"/>
<rect x="462.84" y="97.18" width="0.6" height="11.29" fill="#fbdcb6"/>
<rect x="464.45" y="97.18" width="2.63" height="11.29" fill="#5468b8"/>
<rect x="470.37" y="97.18" width="1.31" height="11.29" fill="#b4bee5"/>
<rect x="477.6" y="97.18" width="1.97" height="11.29" fill="#b4bee5"/>
<rect x="486.79" y="97.18" width="1.31" height="11.29" fill="#5468b8"/>
<rect x="497.96" y="97.18" width="1.31" height="11.29" fill="#5468b8"/>
<rect x="502.56" y="97.18" width="1.31" height="11.29" fill="#b4bee5"/>
<rect x="505.19" y="97.18" width="2.63" height="11.29" fill="#b4bee5"/>
<rect x="514.39" y="97.18" width="3.94" height="11.29" fill="#b4bee5"/>
<rect x="518.99" y="97.18" width="1.31" height="11.29" fill="#5468b8"/>
<rect x="523.59" y="97.18" width="1.31" height="11.29" fill="#b4bee5"/>
<rect x="526.22" y="97.18" width="1.31" height="11.29" fill="#5468b8"/>
<rect x="528.84" y="97.18" width="2.63" height="11.29" fill="#b4bee5"/>
<rect x="532.79" y="97.18" width="3.21" height="11.29" fill="#5468b8"/>
<rect x="536.06" y="97.18" width="0.6" height="11.29" fill="#b4bee5"/>
<rect x="536" y="97.18" width="85.7" height="11.29" fill="#ffffff"/>
<rect x="536" y="97.18" width="0.63" height="11.29" fill="#5468b8"/>
<rect x="537.29" y="97.18" width="3.94" height="11.29" fill="#b4bee5"/>
<rect x="543.2" y="97.18" width="0.66" height="11.29" fill="#b4bee5"/>
<rect x="546.48" y="97.18" width="0.66" height="11.29" fill="#b4bee5"/>
<rect x="549.11" y="97.18" width="0.66" height="11.29" fill="#b4bee5"/>
<rect x="553.05" y="97.18" width="1.31" height="11.29" fill="#5468b8"/>
<rect x="555.68" y="97.18" width="1.31" height="11.29" fill="#b4bee5"/>
<rect x="560.28" y="97.18" width="0.66" height="11.29" fill="#b4bee5"/>
<rect x="571.45" y="97.18" width="1.97" height="11.29" fill="#b4bee5"/>
<rect x="579.99" y="97.18" width="3.68" height="11.29" fill="#5468b8"/>
<rect x="617.44" y="97.18" width="3.94" height="11.29" fill="#5468b8"/>
<rect x="369.6" y="108.47" width="82.4" height="11.29" fill="#5468b8"/>
<rect x="369.68" y="108.47" width="0.92" height="11.29" fill="#cc2a40"/>
<rect x="371.26" y="108.47" width="1.31" height="11.29" fill="#95a4d9"/>
<rect x="377.17" y="108.47" width="0.66" height="11.29" fill="#fbdcb6"/>
<rect x="380.15" y="108.47" width="0.6" height="11.29" fill="#fbdcb6"/>
<rect x="389.65" y="108.47" width="2.63" height="11.29" fill="#6c7fc4"/>
<rect x="406.08" y="108.47" width="1.97" height="11.29" fill="#f3f4fb"/>
<rect x="409.36" y="108.47" width="5.26" height="11.29" fill="#95a4d9"/>
<rect x="438.27" y="108.47" width="1.31" height="11.29" fill="#f3f4fb"/>
<rect x="450.1" y="108.47" width="1.9" height="11.29" fill="#f3f4fb"/>
<rect x="452" y="108.47" width="84" height="11.29" fill="#ffffff"/>
<rect x="451.36" y="108.47" width="0.6" height="11.29" fill="#fbdcb6"/>
<rect x="452.63" y="108.47" width="1.31" height="11.29" fill="#5468b8"/>
<rect x="454.6" y="108.47" width="3.29" height="11.29" fill="#b4bee5"/>
<rect x="459.86" y="108.47" width="5.26" height="11.29" fill="#b4bee5"/>
<rect x="469.05" y="108.47" width="2.63" height="11.29" fill="#5468b8"/>
<rect x="474.01" y="108.47" width="0.6" height="11.29" fill="#b8a29a"/>
<rect x="476.28" y="108.47" width="1.97" height="11.29" fill="#b4bee5"/>
<rect x="480.22" y="108.47" width="1.31" height="11.29" fill="#b4bee5"/>
<rect x="483.51" y="108.47" width="1.31" height="11.29" fill="#5468b8"/>
<rect x="488.11" y="108.47" width="1.31" height="11.29" fill="#5468b8"/>
<rect x="499.28" y="108.47" width="1.97" height="11.29" fill="#5468b8"/>
<rect x="507.52" y="108.47" width="0.6" height="11.29" fill="#cc2a40"/>
<rect x="509.79" y="108.47" width="5.91" height="11.29" fill="#b4bee5"/>
<rect x="518.33" y="108.47" width="1.31" height="11.29" fill="#5468b8"/>
<rect x="521.32" y="108.47" width="0.6" height="11.29" fill="#b4bee5"/>
<rect x="526.87" y="108.47" width="1.31" height="11.29" fill="#5468b8"/>
<rect x="531.47" y="108.47" width="2.63" height="11.29" fill="#b4bee5"/>
<rect x="536" y="108.47" width="85.7" height="11.29" fill="#ffffff"/>
<rect x="539.26" y="108.47" width="1.97" height="11.29" fill="#b4bee5"/>
<rect x="541.88" y="108.47" width="0.66" height="11.29" fill="#5468b8"/>
<rect x="543.2" y="108.47" width="0.66" height="11.29" fill="#b4bee5"/>
<rect x="545.17" y="108.47" width="1.31" height="11.29" fill="#5468b8"/>
<rect x="555.02" y="108.47" width="0.66" height="11.29" fill="#b4bee5"/>
<rect x="557" y="108.47" width="0.66" height="11.29" fill="#b4bee5"/>
<rect x="560.28" y="108.47" width="1.31" height="11.29" fill="#b4bee5"/>
<rect x="568.17" y="108.47" width="0.66" height="11.29" fill="#5468b8"/>
<rect x="572.11" y="108.47" width="2.63" height="11.29" fill="#5468b8"/>
<rect x="587.88" y="108.47" width="0.66" height="11.29" fill="#b4bee5"/>
<rect x="594.45" y="108.47" width="1.31" height="11.29" fill="#b4bee5"/>
<rect x="597.07" y="108.47" width="1.31" height="11.29" fill="#b4bee5"/>
<rect x="599.7" y="108.47" width="1.31" height="11.29" fill="#b4bee5"/>
<rect x="601.67" y="108.47" width="0.66" height="11.29" fill="#5468b8"/>
<rect x="602.99" y="108.47" width="1.97" height="11.29" fill="#b4bee5"/>
<rect x="369.6" y="119.77" width="82.4" height="11.29" fill="#5468b8"/>
<rect x="369.68" y="119.77" width="1.31" height="11.29" fill="#cc2a40"/>
<rect x="371.26" y="119.77" width="4.6" height="11.29" fill="#fbdcb6"/>
<rect x="390.97" y="119.77" width="0.66" height="11.29" fill="#95a4d9"/>
<rect x="395.92" y="119.77" width="0.6" height="11.29" fill="#fbdcb6"/>
<rect x="401.84" y="119.77" width="0.6" height="11.29" fill="#f3f4fb"/>
<rect x="409.06" y="119.77" width="0.6" height="11.29" fill="#f3f4fb"/>
<rect x="411.04" y="119.77" width="0.6" height="11.29" fill="#f3f4fb"/>
<rect x="413.01" y="119.77" width="0.6" height="11.29" fill="#fbdcb6"/>
<rect x="418.96" y="119.77" width="0.66" height="11.29" fill="#95a4d9"/>
<rect x="443.92" y="119.77" width="0.66" height="11.29" fill="#95a4d9"/>
<rect x="447.87" y="119.77" width="0.66" height="11.29" fill="#f3f4fb"/>
<rect x="449.84" y="119.77" width="0.92" height="11.29" fill="#f2ad5c"/>
<rect x="452" y="119.77" width="84" height="11.29" fill="#ffffff"/>
<rect x="451.23" y="119.77" width="0.6" height="11.29" fill="#ee9a3e"/>
<rect x="452" y="119.77" width="3.91" height="11.29" fill="#5468b8"/>
<rect x="455.91" y="119.77" width="1.31" height="11.29" fill="#b4bee5"/>
<rect x="457.23" y="119.77" width="5.91" height="11.29" fill="#5468b8"/>
<rect x="463.14" y="119.77" width="1.31" height="11.29" fill="#b4bee5"/>
<rect x="464.45" y="119.77" width="9.2" height="11.29" fill="#5468b8"/>
<rect x="474.01" y="119.77" width="0.6" height="11.29" fill="#b8a29a"/>
<rect x="474.97" y="119.77" width="5.26" height="11.29" fill="#5468b8"/>
<rect x="487.81" y="119.77" width="0.6" height="11.29" fill="#cc2a40"/>
<rect x="488.76" y="119.77" width="0.66" height="11.29" fill="#b4bee5"/>
<rect x="492.05" y="119.77" width="0.66" height="11.29" fill="#5468b8"/>
<rect x="497.96" y="119.77" width="0.92" height="11.29" fill="#cc2a40"/>
<rect x="500.59" y="119.77" width="1.31" height="11.29" fill="#b4bee5"/>
<rect x="501.91" y="119.77" width="0.66" height="11.29" fill="#5468b8"/>
<rect x="506.86" y="119.77" width="0.6" height="11.29" fill="#fbdcb6"/>
<rect x="509.79" y="119.77" width="0.66" height="11.29" fill="#b4bee5"/>
<rect x="513.07" y="119.77" width="1.31" height="11.29" fill="#5468b8"/>
<rect x="515.7" y="119.77" width="3.94" height="11.29" fill="#b4bee5"/>
<rect x="520.96" y="119.77" width="0.66" height="11.29" fill="#b4bee5"/>
<rect x="525.56" y="119.77" width="0.66" height="11.29" fill="#5468b8"/>
<rect x="528.19" y="119.77" width="0.66" height="11.29" fill="#b4bee5"/>
<rect x="531.47" y="119.77" width="1.31" height="11.29" fill="#b4bee5"/>
<rect x="536" y="119.77" width="85.7" height="11.29" fill="#ffffff"/>
<rect x="539.91" y="119.77" width="5.26" height="11.29" fill="#5468b8"/>
<rect x="556.34" y="119.77" width="2.63" height="11.29" fill="#5468b8"/>
<rect x="568.17" y="119.77" width="2.63" height="11.29" fill="#5468b8"/>
<rect x="590.5" y="119.77" width="6.57" height="11.29" fill="#5468b8"/>
<rect x="369.6" y="131.06" width="82.4" height="11.29" fill="#5468b8"/>
<rect x="369.68" y="131.06" width="1.31" height="11.29" fill="#cc2a40"/>
<rect x="371.91" y="131.06" width="3.29" height="11.29" fill="#95a4d9"/>
<rect x="376.87" y="131.06" width="0.6" height="11.29" fill="#fbdcb6"/>
<rect x="388.7" y="131.06" width="0.6" height="11.29" fill="#fbdcb6"/>
<rect x="392.28" y="131.06" width="1.97" height="11.29" fill="#95a4d9"/>
<rect x="409.06" y="131.06" width="0.6" height="11.29" fill="#f3f4fb"/>
<rect x="410.68" y="131.06" width="1.31" height="11.29" fill="#f3f4fb"/>
<rect x="413.66" y="131.06" width="0.6" height="11.29" fill="#95a4d9"/>
<rect x="418.96" y="131.06" width="0.66" height="11.29" fill="#95a4d9"/>
<rect x="438.01" y="131.06" width="0.66" height="11.29" fill="#95a4d9"/>
<rect x="443.92" y="131.06" width="0.66" height="11.29" fill="#95a4d9"/>
<rect x="451.15" y="131.06" width="0.66" height="11.29" fill="#95a4d9"/>
<rect x="452" y="131.06" width="84" height="11.29" fill="#ffffff"/>
<rect x="452" y="131.06" width="3.91" height="11.29" fill="#5468b8"/>
<rect x="455.91" y="131.06" width="1.31" height="11.29" fill="#b4bee5"/>
<rect x="457.23" y="131.06" width="7.23" height="11.29" fill="#5468b8"/>
<rect x="464.45" y="131.06" width="1.31" height="11.29" fill="#b4bee5"/>
<rect x="465.77" y="131.06" width="7.23" height="11.29" fill="#5468b8"/>
<rect x="473.65" y="131.06" width="2.63" height="11.29" fill="#b4bee5"/>
<rect x="476.28" y="131.06" width="1.97" height="11.29" fill="#5468b8"/>
<rect x="478.91" y="131.06" width="2.63" height="11.29" fill="#b4bee5"/>
<rect x="488.11" y="131.06" width="1.31" height="11.29" fill="#fbdcb6"/>
<rect x="492.05" y="131.06" width="0.66" height="11.29" fill="#5468b8"/>
<rect x="498.06" y="131.06" width="0.6" height="11.29" fill="#cc2a40"/>
<rect x="499.93" y="131.06" width="1.31" height="11.29" fill="#b4bee5"/>
<rect x="502.56" y="131.06" width="0.66" height="11.29" fill="#b4bee5"/>
<rect x="506.5" y="131.06" width="1.31" height="11.29" fill="#b4bee5"/>
<rect x="512.12" y="131.06" width="0.6" height="11.29" fill="#fbdcb6"/>
<rect x="514.39" y="131.06" width="1.31" height="11.29" fill="#b4bee5"/>
<rect x="518.99" y="131.06" width="0.66" height="11.29" fill="#5468b8"/>
<rect x="520.96" y="131.06" width="0.66" height="11.29" fill="#b4bee5"/>
<rect x="525.56" y="131.06" width="1.31" height="11.29" fill="#5468b8"/>
<rect x="528.84" y="131.06" width="0.66" height="11.29" fill="#b4bee5"/>
<rect x="536.06" y="131.06" width="0.6" height="11.29" fill="#b4bee5"/>
<rect x="536" y="131.06" width="85.7" height="11.29" fill="#ffffff"/>
<rect x="536" y="131.06" width="0.63" height="11.29" fill="#b4bee5"/>
<rect x="539.91" y="131.06" width="5.91" height="11.29" fill="#5468b8"/>
<rect x="557.65" y="131.06" width="1.31" height="11.29" fill="#5468b8"/>
<rect x="568.82" y="131.06" width="2.63" height="11.29" fill="#5468b8"/>
<rect x="588.53" y="131.06" width="0.66" height="11.29" fill="#b4bee5"/>
<rect x="591.82" y="131.06" width="7.88" height="11.29" fill="#5468b8"/>
<rect x="369.6" y="142.36" width="82.4" height="11.29" fill="#5468b8"/>
<rect x="369.94" y="142.36" width="1.31" height="11.29" fill="#f2ad5c"/>
<rect x="373.88" y="142.36" width="0.66" height="11.29" fill="#95a4d9"/>
<rect x="381.47" y="142.36" width="0.6" height="11.29" fill="#6c7fc4"/>
<rect x="393.3" y="142.36" width="0.6" height="11.29" fill="#6c7fc4"/>
<rect x="405.12" y="142.36" width="0.6" height="11.29" fill="#95a4d9"/>
<rect x="411.04" y="142.36" width="0.6" height="11.29" fill="#95a4d9"/>
<rect x="413.01" y="142.36" width="0.6" height="11.29" fill="#fbdcb6"/>
<rect x="419.58" y="142.36" width="0.6" height="11.29" fill="#95a4d9"/>
<rect x="437.62" y="142.36" width="3.29" height="11.29" fill="#95a4d9"/>
<rect x="445.2" y="142.36" width="0.6" height="11.29" fill="#95a4d9"/>
<rect x="449.8" y="142.36" width="0.6" height="11.29" fill="#fbdcb6"/>
<rect x="451.6" y="142.36" width="0.6" height="11.29" fill="#95a4d9"/>
<rect x="452" y="142.36" width="84" height="11.29" fill="#ffffff"/>
<rect x="452" y="142.36" width="1.29" height="11.29" fill="#b4bee5"/>
<rect x="453.29" y="142.36" width="2.63" height="11.29" fill="#5468b8"/>
<rect x="455.91" y="142.36" width="1.97" height="11.29" fill="#b4bee5"/>
<rect x="457.88" y="142.36" width="5.26" height="11.29" fill="#5468b8"/>
<rect x="463.14" y="142.36" width="1.31" height="11.29" fill="#b4bee5"/>
<rect x="464.45" y="142.36" width="11.83" height="11.29" fill="#5468b8"/>
<rect x="476.28" y="142.36" width="1.31" height="11.29" fill="#b4bee5"/>
<rect x="481.54" y="142.36" width="0.66" height="11.29" fill="#5468b8"/>
<rect x="486.79" y="142.36" width="2.63" height="11.29" fill="#5468b8"/>
<rect x="492.71" y="142.36" width="1.31" height="11.29" fill="#b4bee5"/>
<rect x="499.28" y="142.36" width="2.63" height="11.29" fill="#b4bee5"/>
<rect x="505.19" y="142.36" width="0.66" height="11.29" fill="#5468b8"/>
<rect x="514.39" y="142.36" width="2.63" height="11.29" fill="#b4bee5"/>
<rect x="518.99" y="142.36" width="0.66" height="11.29" fill="#5468b8"/>
<rect x="521.32" y="142.36" width="0.6" height="11.29" fill="#b4bee5"/>
<rect x="525.56" y="142.36" width="1.31" height="11.29" fill="#5468b8"/>
<rect x="528.84" y="142.36" width="0.66" height="11.29" fill="#b4bee5"/>
<rect x="536" y="142.36" width="85.7" height="11.29" fill="#ffffff"/>
<rect x="539.91" y="142.36" width="0.66" height="11.29" fill="#5468b8"/>
<rect x="541.23" y="142.36" width="0.66" height="11.29" fill="#b4bee5"/>
<rect x="542.54" y="142.36" width="3.94" height="11.29" fill="#5468b8"/>
<rect x="555.68" y="142.36" width="1.31" height="11.29" fill="#fbdcb6"/>
<rect x="557.65" y="142.36" width="2.63" height="11.29" fill="#b4bee5"/>
<rect x="568.82" y="142.36" width="1.31" height="11.29" fill="#5468b8"/>
<rect x="571.45" y="142.36" width="1.97" height="11.29" fill="#5468b8"/>
<rect x="598.39" y="142.36" width="1.31" height="11.29" fill="#5468b8"/>
<rect x="600.36" y="142.36" width="3.29" height="11.29" fill="#b4bee5"/>
<rect x="369.6" y="153.66" width="82.4" height="11.29" fill="#5468b8"/>
<rect x="369.68" y="153.66" width="0.92" height="11.29" fill="#f2ad5c"/>
<rect x="371.91" y="153.66" width="3.29" height="11.29" fill="#95a4d9"/>
<rect x="376.91" y="153.66" width="0.92" height="11.29" fill="#fbdcb6"/>
<rect x="389.65" y="153.66" width="1.31" height="11.29" fill="#95a4d9"/>
<rect x="397.89" y="153.66" width="0.6" height="11.29" fill="#f3f4fb"/>
<rect x="409.36" y="153.66" width="1.97" height="11.29" fill="#95a4d9"/>
<rect x="413.01" y="153.66" width="0.6" height="11.29" fill="#fbdcb6"/>
<rect x="418.92" y="153.66" width="0.6" height="11.29" fill="#95a4d9"/>
<rect x="437.62" y="153.66" width="1.31" height="11.29" fill="#95a4d9"/>
<rect x="447.17" y="153.66" width="0.6" height="11.29" fill="#f3f4fb"/>
<rect x="450.1" y="153.66" width="1.9" height="11.29" fill="#95a4d9"/>
<rect x="452" y="153.66" width="84" height="11.29" fill="#ffffff"/>
<rect x="452" y="153.66" width="7.2" height="11.29" fill="#5468b8"/>
<rect x="460.51" y="153.66" width="1.31" height="11.29" fill="#5468b8"/>
<rect x="466.13" y="153.66" width="0.6" height="11.29" fill="#ee9a3e"/>
<rect x="467.08" y="153.66" width="5.91" height="11.29" fill="#5468b8"/>
<rect x="473" y="153.66" width="1.97" height="11.29" fill="#b4bee5"/>
<rect x="474.97" y="153.66" width="3.94" height="11.29" fill="#5468b8"/>
<rect x="478.91" y="153.66" width="1.31" height="11.29" fill="#b4bee5"/>
<rect x="480.22" y="153.66" width="9.2" height="11.29" fill="#5468b8"/>
<rect x="489.42" y="153.66" width="2.63" height="11.29" fill="#b4bee5"/>
<rect x="492.05" y="153.66" width="2.63" height="11.29" fill="#5468b8"/>
<rect x="505.19" y="153.66" width="1.31" height="11.29" fill="#5468b8"/>
<rect x="514.39" y="153.66" width="2.63" height="11.29" fill="#b4bee5"/>
<rect x="519.65" y="153.66" width="2.63" height="11.29" fill="#b4bee5"/>
<rect x="522.93" y="153.66" width="0.66" height="11.29" fill="#5468b8"/>
<rect x="528.19" y="153.66" width="0.66" height="11.29" fill="#b4bee5"/>
<rect x="536" y="153.66" width="85.7" height="11.29" fill="#ffffff"/>
<rect x="539.91" y="153.66" width="1.31" height="11.29" fill="#5468b8"/>
<rect x="541.88" y="153.66" width="1.31" height="11.29" fill="#5468b8"/>
<rect x="543.86" y="153.66" width="1.31" height="11.29" fill="#b4bee5"/>
<rect x="547.14" y="153.66" width="1.31" height="11.29" fill="#b8a29a"/>
<rect x="557" y="153.66" width="2.63" height="11.29" fill="#5468b8"/>
<rect x="570.14" y="153.66" width="3.29" height="11.29" fill="#5468b8"/>
<rect x="589.85" y="153.66" width="0.66" height="11.29" fill="#b4bee5"/>
<rect x="602.33" y="153.66" width="1.31" height="11.29" fill="#b4bee5"/>
<rect x="604.3" y="153.66" width="2.63" height="11.29" fill="#5468b8"/>
<rect x="369.6" y="164.95" width="82.4" height="11.29" fill="#5468b8"/>
<rect x="369.68" y="164.95" width="0.92" height="11.29" fill="#cc2a40"/>
<rect x="371.26" y="164.95" width="0.66" height="11.29" fill="#f2ad5c"/>
<rect x="372.57" y="164.95" width="0.66" height="11.29" fill="#cc2a40"/>
<rect x="373.88" y="164.95" width="1.97" height="11.29" fill="#fbdcb6"/>
<rect x="377.17" y="164.95" width="2.63" height="11.29" fill="#f2ad5c"/>
<rect x="381.77" y="164.95" width="1.31" height="11.29" fill="#fbdcb6"/>
<rect x="390.31" y="164.95" width="1.31" height="11.29" fill="#95a4d9"/>
<rect x="396.22" y="164.95" width="0.66" height="11.29" fill="#cc2a40"/>
<rect x="397.54" y="164.95" width="1.31" height="11.29" fill="#f3f4fb"/>
<rect x="400.52" y="164.95" width="0.6" height="11.29" fill="#95a4d9"/>
<rect x="404.11" y="164.95" width="3.94" height="11.29" fill="#95a4d9"/>
<rect x="410.02" y="164.95" width="2.63" height="11.29" fill="#fbdcb6"/>
<rect x="414.62" y="164.95" width="1.31" height="11.29" fill="#f2ad5c"/>
<rect x="417.25" y="164.95" width="1.31" height="11.29" fill="#fbdcb6"/>
<rect x="437.32" y="164.95" width="0.6" height="11.29" fill="#fbdcb6"/>
<rect x="438.27" y="164.95" width="2.63" height="11.29" fill="#95a4d9"/>
<rect x="441.92" y="164.95" width="0.6" height="11.29" fill="#f3f4fb"/>
<rect x="443.89" y="164.95" width="0.6" height="11.29" fill="#f2ad5c"/>
<rect x="444.84" y="164.95" width="7.16" height="11.29" fill="#95a4d9"/>
<rect x="452" y="164.95" width="84" height="11.29" fill="#ffffff"/>
<rect x="452" y="164.95" width="0.63" height="11.29" fill="#b4bee5"/>
<rect x="452.63" y="164.95" width="2.63" height="11.29" fill="#5468b8"/>
<rect x="455.52" y="164.95" width="0.79" height="11.29" fill="#ee9a3e"/>
<rect x="456.31" y="164.95" width="2.89" height="11.29" fill="#b4bee5"/>
<rect x="459.86" y="164.95" width="0.66" height="11.29" fill="#ee9a3e"/>
<rect x="461.83" y="164.95" width="2.63" height="11.29" fill="#5468b8"/>
<rect x="465.77" y="164.95" width="0.66" height="11.29" fill="#ee9a3e"/>
<rect x="467.08" y="164.95" width="6.57" height="11.29" fill="#5468b8"/>
<rect x="474.97" y="164.95" width="3.94" height="11.29" fill="#b4bee5"/>
<rect x="479.27" y="164.95" width="0.6" height="11.29" fill="#ee9a3e"/>
<rect x="480.22" y="164.95" width="4.6" height="11.29" fill="#b4bee5"/>
<rect x="485.18" y="164.95" width="0.6" height="11.29" fill="#ee9a3e"/>
<rect x="486.14" y="164.95" width="3.29" height="11.29" fill="#5468b8"/>
<rect x="489.42" y="164.95" width="3.94" height="11.29" fill="#b4bee5"/>
<rect x="493.72" y="164.95" width="0.6" height="11.29" fill="#fbdcb6"/>
<rect x="494.68" y="164.95" width="1.97" height="11.29" fill="#b4bee5"/>
<rect x="500.59" y="164.95" width="1.97" height="11.29" fill="#b4bee5"/>
<rect x="503.88" y="164.95" width="1.31" height="11.29" fill="#fbdcb6"/>
<rect x="505.19" y="164.95" width="2.63" height="11.29" fill="#b4bee5"/>
<rect x="510.15" y="164.95" width="0.6" height="11.29" fill="#ee9a3e"/>
<rect x="515.05" y="164.95" width="1.97" height="11.29" fill="#b4bee5"/>
<rect x="524.24" y="164.95" width="1.97" height="11.29" fill="#b4bee5"/>
<rect x="530.16" y="164.95" width="0.66" height="11.29" fill="#fbdcb6"/>
<rect x="536" y="164.95" width="85.7" height="11.29" fill="#ffffff"/>
<rect x="537.94" y="164.95" width="2.63" height="11.29" fill="#b4bee5"/>
<rect x="547.14" y="164.95" width="1.31" height="11.29" fill="#fbdcb6"/>
<rect x="551.08" y="164.95" width="1.31" height="11.29" fill="#5468b8"/>
<rect x="552.4" y="164.95" width="1.31" height="11.29" fill="#b4bee5"/>
<rect x="558.31" y="164.95" width="1.31" height="11.29" fill="#b4bee5"/>
<rect x="560.94" y="164.95" width="0.66" height="11.29" fill="#5468b8"/>
<rect x="564.58" y="164.95" width="0.6" height="11.29" fill="#fbdcb6"/>
<rect x="565.54" y="164.95" width="0.66" height="11.29" fill="#b8a29a"/>
<rect x="575.39" y="164.95" width="3.29" height="11.29" fill="#5468b8"/>
<rect x="608.24" y="164.95" width="1.31" height="11.29" fill="#b4bee5"/>
<rect x="612.84" y="164.95" width="1.58" height="11.29" fill="#5468b8"/>
<rect x="369.6" y="176.25" width="82.4" height="11.29" fill="#5468b8"/>
<rect x="370.6" y="176.25" width="1.31" height="11.29" fill="#95a4d9"/>
<rect x="373.88" y="176.25" width="0.66" height="11.29" fill="#f3f4fb"/>
<rect x="389" y="176.25" width="0.66" height="11.29" fill="#f3f4fb"/>
<rect x="403.81" y="176.25" width="0.6" height="11.29" fill="#fbdcb6"/>
<rect x="411.04" y="176.25" width="0.6" height="11.29" fill="#95a4d9"/>
<rect x="418.92" y="176.25" width="0.6" height="11.29" fill="#f2ad5c"/>
<rect x="437.97" y="176.25" width="0.6" height="11.29" fill="#95a4d9"/>
<rect x="443.23" y="176.25" width="0.6" height="11.29" fill="#95a4d9"/>
<rect x="443.89" y="176.25" width="0.6" height="11.29" fill="#f2ad5c"/>
<rect x="452" y="176.25" width="84" height="11.29" fill="#ffffff"/>
<rect x="452" y="176.25" width="8.51" height="11.29" fill="#5468b8"/>
<rect x="462.48" y="176.25" width="0.66" height="11.29" fill="#b4bee5"/>
<rect x="463.14" y="176.25" width="9.2" height="11.29" fill="#5468b8"/>
<rect x="474.97" y="176.25" width="3.29" height="11.29" fill="#b4bee5"/>
<rect x="478.25" y="176.25" width="0.92" height="11.29" fill="#5468b8"/>
<rect x="479.17" y="176.25" width="2.37" height="11.29" fill="#b4bee5"/>
<rect x="481.54" y="176.25" width="5.26" height="11.29" fill="#5468b8"/>
<rect x="486.79" y="176.25" width="6.57" height="11.29" fill="#b4bee5"/>
<rect x="493.36" y="176.25" width="1.97" height="11.29" fill="#5468b8"/>
<rect x="499.93" y="176.25" width="1.97" height="11.29" fill="#b4bee5"/>
<rect x="502.56" y="176.25" width="1.97" height="11.29" fill="#5468b8"/>
<rect x="505.19" y="176.25" width="2.63" height="11.29" fill="#b4bee5"/>
<rect x="513.07" y="176.25" width="5.26" height="11.29" fill="#b4bee5"/>
<rect x="520.3" y="176.25" width="3.29" height="11.29" fill="#b4bee5"/>
<rect x="528.19" y="176.25" width="0.66" height="11.29" fill="#5468b8"/>
<rect x="536" y="176.25" width="85.7" height="11.29" fill="#ffffff"/>
<rect x="537.94" y="176.25" width="0.66" height="11.29" fill="#b4bee5"/>
<rect x="547.8" y="176.25" width="0.66" height="11.29" fill="#5468b8"/>
<rect x="549.77" y="176.25" width="0.66" height="11.29" fill="#5468b8"/>
<rect x="555.02" y="176.25" width="0.66" height="11.29" fill="#b4bee5"/>
<rect x="562.91" y="176.25" width="1.31" height="11.29" fill="#5468b8"/>
<rect x="567.21" y="176.25" width="0.6" height="11.29" fill="#b4bee5"/>
<rect x="571.45" y="176.25" width="0.66" height="11.29" fill="#b4bee5"/>
<rect x="579.04" y="176.25" width="0.6" height="11.29" fill="#b4bee5"/>
<rect x="606.93" y="176.25" width="0.66" height="11.29" fill="#5468b8"/>
<rect x="614.81" y="176.25" width="3.29" height="11.29" fill="#b4bee5"/>
<rect x="369.6" y="187.54" width="82.4" height="11.29" fill="#5468b8"/>
<rect x="370.6" y="187.54" width="1.31" height="11.29" fill="#fbdcb6"/>
<rect x="373.88" y="187.54" width="0.66" height="11.29" fill="#f3f4fb"/>
<rect x="403.81" y="187.54" width="0.6" height="11.29" fill="#fbdcb6"/>
<rect x="452" y="187.54" width="84" height="11.29" fill="#ffffff"/>
<rect x="452" y="187.54" width="0.63" height="11.29" fill="#b4bee5"/>
<rect x="452.63" y="187.54" width="7.88" height="11.29" fill="#5468b8"/>
<rect x="462.48" y="187.54" width="0.66" height="11.29" fill="#b4bee5"/>
<rect x="463.8" y="187.54" width="9.86" height="11.29" fill="#5468b8"/>
<rect x="474.97" y="187.54" width="10.51" height="11.29" fill="#5468b8"/>
<rect x="485.48" y="187.54" width="5.26" height="11.29" fill="#b4bee5"/>
<rect x="490.44" y="187.54" width="0.6" height="11.29" fill="#fbdcb6"/>
<rect x="491.39" y="187.54" width="1.97" height="11.29" fill="#b4bee5"/>
<rect x="493.36" y="187.54" width="3.94" height="11.29" fill="#5468b8"/>
<rect x="501.91" y="187.54" width="1.97" height="11.29" fill="#5468b8"/>
<rect x="509.13" y="187.54" width="2.63" height="11.29" fill="#b4bee5"/>
<rect x="512.42" y="187.54" width="0.66" height="11.29" fill="#5468b8"/>
<rect x="514.39" y="187.54" width="3.94" height="11.29" fill="#b4bee5"/>
<rect x="518.99" y="187.54" width="0.66" height="11.29" fill="#5468b8"/>
<rect x="520.96" y="187.54" width="2.63" height="11.29" fill="#b4bee5"/>
<rect x="528.84" y="187.54" width="1.31" height="11.29" fill="#5468b8"/>
<rect x="536" y="187.54" width="85.7" height="11.29" fill="#ffffff"/>
<rect x="539.26" y="187.54" width="0.66" height="11.29" fill="#5468b8"/>
<rect x="545.17" y="187.54" width="0.66" height="11.29" fill="#b4bee5"/>
<rect x="547.14" y="187.54" width="1.97" height="11.29" fill="#5468b8"/>
<rect x="549.47" y="187.54" width="0.6" height="11.29" fill="#b4bee5"/>
<rect x="551.74" y="187.54" width="0.66" height="11.29" fill="#fbdcb6"/>
<rect x="557" y="187.54" width="0.66" height="11.29" fill="#b4bee5"/>
<rect x="562.91" y="187.54" width="1.31" height="11.29" fill="#5468b8"/>
<rect x="566.85" y="187.54" width="0.66" height="11.29" fill="#b4bee5"/>
<rect x="574.08" y="187.54" width="1.31" height="11.29" fill="#b4bee5"/>
<rect x="576.05" y="187.54" width="1.97" height="11.29" fill="#5468b8"/>
<rect x="579.34" y="187.54" width="0.66" height="11.29" fill="#b4bee5"/>
<rect x="604.3" y="187.54" width="1.31" height="11.29" fill="#b4bee5"/>
<rect x="614.16" y="187.54" width="0.66" height="11.29" fill="#b4bee5"/>
<rect x="616.13" y="187.54" width="0.66" height="11.29" fill="#b4bee5"/>
<rect x="369.6" y="198.84" width="82.4" height="11.29" fill="#5468b8"/>
<rect x="370.96" y="198.84" width="0.6" height="11.29" fill="#fbdcb6"/>
<rect x="373.88" y="198.84" width="0.66" height="11.29" fill="#f3f4fb"/>
<rect x="403.81" y="198.84" width="0.6" height="11.29" fill="#fbdcb6"/>
<rect x="418.92" y="198.84" width="0.6" height="11.29" fill="#b8a29a"/>
<rect x="452" y="198.84" width="84" height="11.29" fill="#ffffff"/>
<rect x="451.69" y="198.84" width="0.6" height="11.29" fill="#b4bee5"/>
<rect x="452" y="198.84" width="4.57" height="11.29" fill="#5468b8"/>
<rect x="458.54" y="198.84" width="1.97" height="11.29" fill="#5468b8"/>
<rect x="463.8" y="198.84" width="9.86" height="11.29" fill="#5468b8"/>
<rect x="474.97" y="198.84" width="11.83" height="11.29" fill="#5468b8"/>
<rect x="488.11" y="198.84" width="1.31" height="11.29" fill="#b4bee5"/>
<rect x="489.78" y="198.84" width="0.6" height="11.29" fill="#fbdcb6"/>
<rect x="490.74" y="198.84" width="2.63" height="11.29" fill="#b4bee5"/>
<rect x="493.36" y="198.84" width="3.94" height="11.29" fill="#5468b8"/>
<rect x="502.56" y="198.84" width="1.31" height="11.29" fill="#5468b8"/>
<rect x="509.13" y="198.84" width="1.31" height="11.29" fill="#b4bee5"/>
<rect x="511.1" y="198.84" width="1.31" height="11.29" fill="#5468b8"/>
<rect x="513.07" y="198.84" width="5.26" height="11.29" fill="#b4bee5"/>
<rect x="518.99" y="198.84" width="0.66" height="11.29" fill="#5468b8"/>
<rect x="520.96" y="198.84" width="2.63" height="11.29" fill="#b4bee5"/>
<rect x="524.9" y="198.84" width="1.97" height="11.29" fill="#b4bee5"/>
<rect x="528.19" y="198.84" width="1.31" height="11.29" fill="#5468b8"/>
<rect x="536" y="198.84" width="85.7" height="11.29" fill="#ffffff"/>
<rect x="539.26" y="198.84" width="0.66" height="11.29" fill="#5468b8"/>
<rect x="547.14" y="198.84" width="1.97" height="11.29" fill="#5468b8"/>
<rect x="549.47" y="198.84" width="0.6" height="11.29" fill="#b4bee5"/>
<rect x="555.02" y="198.84" width="0.66" height="11.29" fill="#b4bee5"/>
<rect x="557" y="198.84" width="0.66" height="11.29" fill="#b4bee5"/>
<rect x="562.91" y="198.84" width="1.31" height="11.29" fill="#5468b8"/>
<rect x="566.85" y="198.84" width="0.66" height="11.29" fill="#fbdcb6"/>
<rect x="574.74" y="198.84" width="1.31" height="11.29" fill="#b4bee5"/>
<rect x="579.04" y="198.84" width="0.6" height="11.29" fill="#b4bee5"/>
<rect x="590.5" y="198.84" width="1.31" height="11.29" fill="#5468b8"/>
<rect x="600.36" y="198.84" width="0.66" height="11.29" fill="#5468b8"/>
<rect x="605.62" y="198.84" width="0.66" height="11.29" fill="#b4bee5"/>
<rect x="616.13" y="198.84" width="1.31" height="11.29" fill="#5468b8"/>
<rect x="369.6" y="210.13" width="82.4" height="11.29" fill="#5468b8"/>
<rect x="371.26" y="210.13" width="0.66" height="11.29" fill="#f2ad5c"/>
<rect x="373.23" y="210.13" width="0.66" height="11.29" fill="#cc2a40"/>
<rect x="377.17" y="210.13" width="0.66" height="11.29" fill="#f3f4fb"/>
<rect x="405.12" y="210.13" width="0.6" height="11.29" fill="#b8a29a"/>
<rect x="411.04" y="210.13" width="0.6" height="11.29" fill="#f3f4fb"/>
<rect x="437.97" y="210.13" width="0.6" height="11.29" fill="#b8a29a"/>
<rect x="443.89" y="210.13" width="0.6" height="11.29" fill="#f3f4fb"/>
<rect x="450.1" y="210.13" width="0.66" height="11.29" fill="#f3f4fb"/>
<rect x="452" y="210.13" width="84" height="11.29" fill="#ffffff"/>
<rect x="451.03" y="210.13" width="0.6" height="11.29" fill="#fbdcb6"/>
<rect x="452" y="210.13" width="9.83" height="11.29" fill="#5468b8"/>
<rect x="463.14" y="210.13" width="1.97" height="11.29" fill="#5468b8"/>
<rect x="467.08" y="210.13" width="1.31" height="11.29" fill="#5468b8"/>
<rect x="468.4" y="210.13" width="1.31" height="11.29" fill="#b4bee5"/>
<rect x="469.71" y="210.13" width="2.63" height="11.29" fill="#5468b8"/>
<rect x="472.34" y="210.13" width="1.31" height="11.29" fill="#b4bee5"/>
<rect x="473.65" y="210.13" width="7.88" height="11.29" fill="#5468b8"/>
<rect x="482.85" y="210.13" width="5.26" height="11.29" fill="#5468b8"/>
<rect x="488.11" y="210.13" width="1.31" height="11.29" fill="#b4bee5"/>
<rect x="489.42" y="210.13" width="5.26" height="11.29" fill="#5468b8"/>
<rect x="494.68" y="210.13" width="1.31" height="11.29" fill="#b4bee5"/>
<rect x="496.65" y="210.13" width="2.63" height="11.29" fill="#5468b8"/>
<rect x="500.59" y="210.13" width="1.97" height="11.29" fill="#b4bee5"/>
<rect x="503.22" y="210.13" width="1.97" height="11.29" fill="#5468b8"/>
<rect x="505.85" y="210.13" width="2.63" height="11.29" fill="#5468b8"/>
<rect x="509.13" y="210.13" width="1.31" height="11.29" fill="#b4bee5"/>
<rect x="511.76" y="210.13" width="6.57" height="11.29" fill="#5468b8"/>
<rect x="523.94" y="210.13" width="0.6" height="11.29" fill="#5468b8"/>
<rect x="536" y="210.13" width="85.7" height="11.29" fill="#ffffff"/>
<rect x="541.23" y="210.13" width="1.31" height="11.29" fill="#b4bee5"/>
<rect x="549.77" y="210.13" width="1.31" height="11.29" fill="#5468b8"/>
<rect x="553.71" y="210.13" width="0.66" height="11.29" fill="#b4bee5"/>
<rect x="558.31" y="210.13" width="1.31" height="11.29" fill="#5468b8"/>
<rect x="560.94" y="210.13" width="1.31" height="11.29" fill="#5468b8"/>
<rect x="563.57" y="210.13" width="1.31" height="11.29" fill="#5468b8"/>
<rect x="574.08" y="210.13" width="2.63" height="11.29" fill="#5468b8"/>
<rect x="578.02" y="210.13" width="0.66" height="11.29" fill="#5468b8"/>
<rect x="608.24" y="210.13" width="0.66" height="11.29" fill="#5468b8"/>
<rect x="369.6" y="221.43" width="82.4" height="11.29" fill="#5468b8"/>
<rect x="369.94" y="221.43" width="1.97" height="11.29" fill="#fbdcb6"/>
<rect x="371.91" y="221.43" width="2.63" height="11.29" fill="#95a4d9"/>
<rect x="398.19" y="221.43" width="1.31" height="11.29" fill="#95a4d9"/>
<rect x="403.81" y="221.43" width="0.6" height="11.29" fill="#fbdcb6"/>
<rect x="407.09" y="221.43" width="0.6" height="11.29" fill="#f3f4fb"/>
<rect x="411.04" y="221.43" width="0.6" height="11.29" fill="#95a4d9"/>
<rect x="418.92" y="221.43" width="0.6" height="11.29" fill="#b8a29a"/>
<rect x="450.1" y="221.43" width="1.9" height="11.29" fill="#95a4d9"/>
<rect x="452" y="221.43" width="84" height="11.29" fill="#ffffff"/>
<rect x="452" y="221.43" width="9.83" height="11.29" fill="#5468b8"/>
<rect x="463.14" y="221.43" width="1.31" height="11.29" fill="#b4bee5"/>
<rect x="465.11" y="221.43" width="4.6" height="11.29" fill="#5468b8"/>
<rect x="469.71" y="221.43" width="1.31" height="11.29" fill="#b4bee5"/>
<rect x="471.02" y="221.43" width="3.94" height="11.29" fill="#5468b8"/>
<rect x="474.97" y="221.43" width="1.31" height="11.29" fill="#b4bee5"/>
<rect x="476.28" y="221.43" width="10.51" height="11.29" fill="#5468b8"/>
<rect x="488.76" y="221.43" width="3.29" height="11.29" fill="#5468b8"/>
<rect x="492.05" y="221.43" width="1.31" height="11.29" fill="#b4bee5"/>
<rect x="493.36" y="221.43" width="3.94" height="11.29" fill="#5468b8"/>
<rect x="497.31" y="221.43" width="1.31" height="11.29" fill="#b4bee5"/>
<rect x="499.28" y="221.43" width="3.29" height="11.29" fill="#5468b8"/>
<rect x="502.56" y="221.43" width="1.97" height="11.29" fill="#b4bee5"/>
<rect x="505.85" y="221.43" width="2.63" height="11.29" fill="#b4bee5"/>
<rect x="508.48" y="221.43" width="3.29" height="11.29" fill="#5468b8"/>
<rect x="511.76" y="221.43" width="3.94" height="11.29" fill="#b4bee5"/>
<rect x="515.7" y="221.43" width="2.63" height="11.29" fill="#5468b8"/>
<rect x="523.59" y="221.43" width="1.97" height="11.29" fill="#b4bee5"/>
<rect x="527.53" y="221.43" width="1.31" height="11.29" fill="#b4bee5"/>
<rect x="536" y="221.43" width="85.7" height="11.29" fill="#ffffff"/>
<rect x="538.6" y="221.43" width="1.31" height="11.29" fill="#5468b8"/>
<rect x="545.17" y="221.43" width="0.66" height="11.29" fill="#b4bee5"/>
<rect x="548.45" y="221.43" width="1.31" height="11.29" fill="#5468b8"/>
<rect x="558.31" y="221.43" width="1.31" height="11.29" fill="#b4bee5"/>
<rect x="560.94" y="221.43" width="3.29" height="11.29" fill="#5468b8"/>
<rect x="574.74" y="221.43" width="1.31" height="11.29" fill="#5468b8"/>
<rect x="606.27" y="221.43" width="3.29" height="11.29" fill="#5468b8"/>
<rect x="369.6" y="232.72" width="82.4" height="11.29" fill="#5468b8"/>
<rect x="371.26" y="232.72" width="0.66" height="11.29" fill="#f2ad5c"/>
<rect x="372.93" y="232.72" width="0.6" height="11.29" fill="#cc2a40"/>
<rect x="376.87" y="232.72" width="0.6" height="11.29" fill="#b8a29a"/>
<rect x="403.45" y="232.72" width="1.31" height="11.29" fill="#95a4d9"/>
<rect x="411.04" y="232.72" width="0.6" height="11.29" fill="#95a4d9"/>
<rect x="418.92" y="232.72" width="0.6" height="11.29" fill="#b8a29a"/>
<rect x="444.19" y="232.72" width="0.66" height="11.29" fill="#cc2a40"/>
<rect x="449.8" y="232.72" width="0.6" height="11.29" fill="#95a4d9"/>
<rect x="452" y="232.72" width="84" height="11.29" fill="#ffffff"/>
<rect x="451.69" y="232.72" width="0.6" height="11.29" fill="#b4bee5"/>
<rect x="452" y="232.72" width="10.48" height="11.29" fill="#5468b8"/>
<rect x="463.8" y="232.72" width="9.2" height="11.29" fill="#5468b8"/>
<rect x="473" y="232.72" width="1.97" height="11.29" fill="#b4bee5"/>
<rect x="474.97" y="232.72" width="11.83" height="11.29" fill="#5468b8"/>
<rect x="489.78" y="232.72" width="0.6" height="11.29" fill="#fbdcb6"/>
<rect x="490.74" y="232.72" width="5.26" height="11.29" fill="#5468b8"/>
<rect x="499.28" y="232.72" width="1.31" height="11.29" fill="#b4bee5"/>
<rect x="500.59" y="232.72" width="4.6" height="11.29" fill="#5468b8"/>
<rect x="507.52" y="232.72" width="0.6" height="11.29" fill="#fbdcb6"/>
<rect x="508.48" y="232.72" width="3.29" height="11.29" fill="#b4bee5"/>
<rect x="511.76" y="232.72" width="2.63" height="11.29" fill="#5468b8"/>
<rect x="515.7" y="232.72" width="2.63" height="11.29" fill="#5468b8"/>
<rect x="524.24" y="232.72" width="0.66" height="11.29" fill="#5468b8"/>
<rect x="528.84" y="232.72" width="0.66" height="11.29" fill="#5468b8"/>
<rect x="536" y="232.72" width="85.7" height="11.29" fill="#ffffff"/>
<rect x="537.29" y="232.72" width="1.97" height="11.29" fill="#b4bee5"/>
<rect x="541.88" y="232.72" width="0.66" height="11.29" fill="#b4bee5"/>
<rect x="546.48" y="232.72" width="1.31" height="11.29" fill="#b4bee5"/>
<rect x="549.77" y="232.72" width="1.31" height="11.29" fill="#5468b8"/>
<rect x="564.22" y="232.72" width="1.31" height="11.29" fill="#5468b8"/>
<rect x="574.08" y="232.72" width="0.66" height="11.29" fill="#b4bee5"/>
<rect x="576.71" y="232.72" width="1.31" height="11.29" fill="#b4bee5"/>
<rect x="610.22" y="232.72" width="1.97" height="11.29" fill="#5468b8"/>
<rect x="369.6" y="244.01" width="82.4" height="11.29" fill="#5468b8"/>
<rect x="369.64" y="244.01" width="0.6" height="11.29" fill="#cc2a40"/>
<rect x="371.26" y="244.01" width="1.31" height="11.29" fill="#fbdcb6"/>
<rect x="373.88" y="244.01" width="1.31" height="11.29" fill="#95a4d9"/>
<rect x="377.17" y="244.01" width="0.66" height="11.29" fill="#f2ad5c"/>
<rect x="402.79" y="244.01" width="1.97" height="11.29" fill="#95a4d9"/>
<rect x="411.34" y="244.01" width="1.31" height="11.29" fill="#f3f4fb"/>
<rect x="418.92" y="244.01" width="0.6" height="11.29" fill="#fbdcb6"/>
<rect x="440.9" y="244.01" width="3.94" height="11.29" fill="#95a4d9"/>
<rect x="450.1" y="244.01" width="1.9" height="11.29" fill="#95a4d9"/>
<rect x="452" y="244.01" width="84" height="11.29" fill="#ffffff"/>
<rect x="452" y="244.01" width="9.17" height="11.29" fill="#5468b8"/>
<rect x="461.17" y="244.01" width="3.29" height="11.29" fill="#b4bee5"/>
<rect x="465.11" y="244.01" width="7.88" height="11.29" fill="#5468b8"/>
<rect x="473" y="244.01" width="1.97" height="11.29" fill="#b4bee5"/>
<rect x="474.97" y="244.01" width="11.83" height="11.29" fill="#5468b8"/>
<rect x="488.76" y="244.01" width="1.31" height="11.29" fill="#5468b8"/>
<rect x="490.08" y="244.01" width="3.29" height="11.29" fill="#b4bee5"/>
<rect x="493.36" y="244.01" width="2.63" height="11.29" fill="#5468b8"/>
<rect x="498.62" y="244.01" width="3.94" height="11.29" fill="#b4bee5"/>
<rect x="503.22" y="244.01" width="1.31" height="11.29" fill="#5468b8"/>
<rect x="504.53" y="244.01" width="3.94" height="11.29" fill="#b4bee5"/>
<rect x="510.45" y="244.01" width="1.31" height="11.29" fill="#5468b8"/>
<rect x="511.76" y="244.01" width="1.31" height="11.29" fill="#b4bee5"/>
<rect x="513.07" y="244.01" width="2.63" height="11.29" fill="#5468b8"/>
<rect x="518.33" y="244.01" width="0.66" height="11.29" fill="#5468b8"/>
<rect x="524.24" y="244.01" width="0.66" height="11.29" fill="#5468b8"/>
<rect x="528.84" y="244.01" width="0.66" height="11.29" fill="#5468b8"/>
<rect x="536" y="244.01" width="85.7" height="11.29" fill="#ffffff"/>
<rect x="536.63" y="244.01" width="0.66" height="11.29" fill="#b4bee5"/>
<rect x="541.23" y="244.01" width="0.66" height="11.29" fill="#5468b8"/>
<rect x="551.08" y="244.01" width="1.31" height="11.29" fill="#5468b8"/>
<rect x="560.28" y="244.01" width="0.66" height="11.29" fill="#b4bee5"/>
<rect x="564.22" y="244.01" width="1.31" height="11.29" fill="#5468b8"/>
<rect x="576.71" y="244.01" width="0.66" height="11.29" fill="#b4bee5"/>
<rect x="609.56" y="244.01" width="3.29" height="11.29" fill="#5468b8"/>
<rect x="369.6" y="255.31" width="82.4" height="11.29" fill="#5468b8"/>
<rect x="370.96" y="255.31" width="0.6" height="11.29" fill="#f2ad5c"/>
<rect x="372.57" y="255.31" width="3.29" height="11.29" fill="#95a4d9"/>
<rect x="405.12" y="255.31" width="0.6" height="11.29" fill="#95a4d9"/>
<rect x="407.09" y="255.31" width="0.6" height="11.29" fill="#f3f4fb"/>
<rect x="411.04" y="255.31" width="0.6" height="11.29" fill="#95a4d9"/>
<rect x="418.92" y="255.31" width="0.6" height="11.29" fill="#b8a29a"/>
<rect x="441.26" y="255.31" width="0.6" height="11.29" fill="#95a4d9"/>
<rect x="443.53" y="255.31" width="1.31" height="11.29" fill="#f3f4fb"/>
<rect x="449.8" y="255.31" width="0.6" height="11.29" fill="#95a4d9"/>
<rect x="452" y="255.31" width="84" height="11.29" fill="#ffffff"/>
<rect x="452" y="255.31" width="2.6" height="11.29" fill="#5468b8"/>
<rect x="455.91" y="255.31" width="4.6" height="11.29" fill="#5468b8"/>
<rect x="461.17" y="255.31" width="5.26" height="11.29" fill="#b4bee5"/>
<rect x="467.08" y="255.31" width="5.91" height="11.29" fill="#5468b8"/>
<rect x="473.65" y="255.31" width="1.31" height="11.29" fill="#b4bee5"/>
<rect x="474.97" y="255.31" width="1.31" height="11.29" fill="#5468b8"/>
<rect x="476.28" y="255.31" width="0.66" height="11.29" fill="#b4bee5"/>
<rect x="477.6" y="255.31" width="1.97" height="11.29" fill="#5468b8"/>
<rect x="480.88" y="255.31" width="5.26" height="11.29" fill="#5468b8"/>
<rect x="488.76" y="255.31" width="1.31" height="11.29" fill="#b4bee5"/>
<rect x="490.08" y="255.31" width="0.66" height="11.29" fill="#5468b8"/>
<rect x="492.05" y="255.31" width="4.6" height="11.29" fill="#5468b8"/>
<rect x="499.28" y="255.31" width="1.31" height="11.29" fill="#b4bee5"/>
<rect x="501.25" y="255.31" width="3.94" height="11.29" fill="#5468b8"/>
<rect x="506.5" y="255.31" width="2.63" height="11.29" fill="#b4bee5"/>
<rect x="511.76" y="255.31" width="3.94" height="11.29" fill="#5468b8"/>
<rect x="518.99" y="255.31" width="1.31" height="11.29" fill="#5468b8"/>
<rect x="521.62" y="255.31" width="3.29" height="11.29" fill="#b4bee5"/>
<rect x="526.87" y="255.31" width="2.63" height="11.29" fill="#b4bee5"/>
<rect x="536" y="255.31" width="85.7" height="11.29" fill="#ffffff"/>
<rect x="545.17" y="255.31" width="0.66" height="11.29" fill="#b4bee5"/>
<rect x="549.11" y="255.31" width="0.66" height="11.29" fill="#b4bee5"/>
<rect x="551.08" y="255.31" width="0.66" height="11.29" fill="#5468b8"/>
<rect x="561.86" y="255.31" width="0.79" height="11.29" fill="#5468b8"/>
<rect x="564.88" y="255.31" width="1.97" height="11.29" fill="#5468b8"/>
<rect x="612.19" y="255.31" width="0.66" height="11.29" fill="#5468b8"/>
<rect x="616.79" y="255.31" width="0.66" height="11.29" fill="#b4bee5"/>
<rect x="369.6" y="266.61" width="82.4" height="11.29" fill="#5468b8"/>
<rect x="370.6" y="266.61" width="1.31" height="11.29" fill="#fbdcb6"/>
<rect x="373.88" y="266.61" width="0.66" height="11.29" fill="#f3f4fb"/>
<rect x="377.17" y="266.61" width="0.66" height="11.29" fill="#fbdcb6"/>
<rect x="411.34" y="266.61" width="1.31" height="11.29" fill="#f3f4fb"/>
<rect x="417.91" y="266.61" width="1.31" height="11.29" fill="#b8a29a"/>
<rect x="443.89" y="266.61" width="0.6" height="11.29" fill="#95a4d9"/>
<rect x="450.1" y="266.61" width="1.31" height="11.29" fill="#95a4d9"/>
<rect x="452" y="266.61" width="84" height="11.29" fill="#ffffff"/>
<rect x="451.36" y="266.61" width="0.6" height="11.29" fill="#b4bee5"/>
<rect x="452" y="266.61" width="10.48" height="11.29" fill="#5468b8"/>
<rect x="463.8" y="266.61" width="6.57" height="11.29" fill="#5468b8"/>
<rect x="471.68" y="266.61" width="1.31" height="11.29" fill="#5468b8"/>
<rect x="473" y="266.61" width="1.97" height="11.29" fill="#b4bee5"/>
<rect x="474.97" y="266.61" width="11.17" height="11.29" fill="#5468b8"/>
<rect x="489.42" y="266.61" width="7.23" height="11.29" fill="#5468b8"/>
<rect x="499.28" y="266.61" width="0.66" height="11.29" fill="#b4bee5"/>
<rect x="499.93" y="266.61" width="4.6" height="11.29" fill="#5468b8"/>
<rect x="505.19" y="266.61" width="6.57" height="11.29" fill="#b4bee5"/>
<rect x="511.76" y="266.61" width="1.31" height="11.29" fill="#fbdcb6"/>
<rect x="515.05" y="266.61" width="3.94" height="11.29" fill="#b4bee5"/>
<rect x="518.99" y="266.61" width="5.91" height="11.29" fill="#5468b8"/>
<rect x="524.9" y="266.61" width="3.94" height="11.29" fill="#b4bee5"/>
<rect x="536" y="266.61" width="85.7" height="11.29" fill="#ffffff"/>
<rect x="541.23" y="266.61" width="0.66" height="11.29" fill="#b4bee5"/>
<rect x="549.11" y="266.61" width="0.66" height="11.29" fill="#b4bee5"/>
<rect x="551.08" y="266.61" width="1.97" height="11.29" fill="#5468b8"/>
<rect x="560.28" y="266.61" width="1.97" height="11.29" fill="#b4bee5"/>
<rect x="564.22" y="266.61" width="2.63" height="11.29" fill="#5468b8"/>
<rect x="578.02" y="266.61" width="0.66" height="11.29" fill="#5468b8"/>
<rect x="612.84" y="266.61" width="0.66" height="11.29" fill="#5468b8"/>
<rect x="614.81" y="266.61" width="0.66" height="11.29" fill="#5468b8"/>
<rect x="369.6" y="277.9" width="82.4" height="11.29" fill="#5468b8"/>
<rect x="370.6" y="277.9" width="1.31" height="11.29" fill="#f2ad5c"/>
<rect x="373.88" y="277.9" width="0.66" height="11.29" fill="#95a4d9"/>
<rect x="377.17" y="277.9" width="0.66" height="11.29" fill="#f2ad5c"/>
<rect x="380.81" y="277.9" width="0.6" height="11.29" fill="#95a4d9"/>
<rect x="395.92" y="277.9" width="0.6" height="11.29" fill="#fbdcb6"/>
<rect x="411.34" y="277.9" width="1.31" height="11.29" fill="#f3f4fb"/>
<rect x="417.91" y="277.9" width="1.31" height="11.29" fill="#95a4d9"/>
<rect x="444.19" y="277.9" width="0.66" height="11.29" fill="#95a4d9"/>
<rect x="450.1" y="277.9" width="0.66" height="11.29" fill="#fbdcb6"/>
<rect x="452" y="277.9" width="84" height="11.29" fill="#ffffff"/>
<rect x="451.03" y="277.9" width="0.6" height="11.29" fill="#fbdcb6"/>
<rect x="452" y="277.9" width="8.51" height="11.29" fill="#5468b8"/>
<rect x="460.51" y="277.9" width="3.29" height="11.29" fill="#b4bee5"/>
<rect x="463.8" y="277.9" width="9.2" height="11.29" fill="#5468b8"/>
<rect x="473" y="277.9" width="1.97" height="11.29" fill="#b4bee5"/>
<rect x="474.97" y="277.9" width="4.6" height="11.29" fill="#5468b8"/>
<rect x="479.57" y="277.9" width="1.31" height="11.29" fill="#b4bee5"/>
<rect x="480.88" y="277.9" width="5.91" height="11.29" fill="#5468b8"/>
<rect x="488.76" y="277.9" width="7.88" height="11.29" fill="#5468b8"/>
<rect x="498.62" y="277.9" width="2.63" height="11.29" fill="#b4bee5"/>
<rect x="501.25" y="277.9" width="3.94" height="11.29" fill="#5468b8"/>
<rect x="507.82" y="277.9" width="3.94" height="11.29" fill="#b4bee5"/>
<rect x="513.07" y="277.9" width="5.26" height="11.29" fill="#5468b8"/>
<rect x="521.62" y="277.9" width="0.66" height="11.29" fill="#5468b8"/>
<rect x="522.93" y="277.9" width="1.31" height="11.29" fill="#b4bee5"/>
<rect x="526.22" y="277.9" width="2.63" height="11.29" fill="#b4bee5"/>
<rect x="536" y="277.9" width="85.7" height="11.29" fill="#ffffff"/>
<rect x="541.23" y="277.9" width="0.66" height="11.29" fill="#b4bee5"/>
<rect x="547.14" y="277.9" width="0.66" height="11.29" fill="#b4bee5"/>
<rect x="549.77" y="277.9" width="0.66" height="11.29" fill="#b4bee5"/>
<rect x="551.08" y="277.9" width="1.31" height="11.29" fill="#5468b8"/>
<rect x="560.28" y="277.9" width="1.31" height="11.29" fill="#b4bee5"/>
<rect x="561.6" y="277.9" width="1.31" height="11.29" fill="#5468b8"/>
<rect x="564.88" y="277.9" width="1.31" height="11.29" fill="#5468b8"/>
<rect x="577.36" y="277.9" width="0.66" height="11.29" fill="#b4bee5"/>
<rect x="614.81" y="277.9" width="0.66" height="11.29" fill="#b4bee5"/>
<rect x="378.5" y="52" width="4" height="237.19" fill="#ffffff" fill-opacity="0.13"/>
<rect x="389.7" y="52" width="3.9" height="237.19" fill="#ffffff" fill-opacity="0.12"/>
<rect x="412.7" y="52" width="3.9" height="237.19" fill="#ffffff" fill-opacity="0.12"/>
<rect x="426.5" y="52" width="3.3" height="237.19" fill="#ffffff" fill-opacity="0.12"/>
<rect x="437" y="52" width="3.3" height="237.19" fill="#ffffff" fill-opacity="0.12"/>
<rect x="446.8" y="52" width="5.2" height="237.19" fill="#ffffff" fill-opacity="0.12"/>
<rect x="372" y="52" width="2.5" height="237.19" fill="#ffffff" fill-opacity="0.25"/>
<rect x="398.5" y="52" width="2" height="237.19" fill="#ffffff" fill-opacity="0.08"/>
<rect x="420" y="52" width="2" height="237.19" fill="#ffffff" fill-opacity="0.08"/>
<rect x="455" y="52" width="1.5" height="237.19" fill="#ffffff" fill-opacity="0.1"/>
<rect x="470.5" y="52" width="1.5" height="237.19" fill="#ffffff" fill-opacity="0.1"/>
<rect x="486" y="52" width="1" height="237.19" fill="#ffffff" fill-opacity="0.1"/>
<line x1="368.9" y1="52" x2="621.7" y2="52" stroke="#222" stroke-width="0.9"/>
<line x1="368.9" y1="63.3" x2="621.7" y2="63.3" stroke="#222" stroke-width="0.9"/>
<line x1="368.9" y1="74.59" x2="621.7" y2="74.59" stroke="#222" stroke-width="0.9"/>
<line x1="368.9" y1="85.88" x2="621.7" y2="85.88" stroke="#222" stroke-width="0.9"/>
<line x1="368.9" y1="97.18" x2="621.7" y2="97.18" stroke="#222" stroke-width="0.9"/>
<line x1="368.9" y1="108.47" x2="621.7" y2="108.47" stroke="#222" stroke-width="0.9"/>
<line x1="368.9" y1="119.77" x2="621.7" y2="119.77" stroke="#222" stroke-width="0.9"/>
<line x1="368.9" y1="131.06" x2="621.7" y2="131.06" stroke="#222" stroke-width="0.9"/>
<line x1="368.9" y1="142.36" x2="621.7" y2="142.36" stroke="#222" stroke-width="0.9"/>
<line x1="368.9" y1="153.66" x2="621.7" y2="153.66" stroke="#222" stroke-width="0.9"/>
<line x1="368.9" y1="164.95" x2="621.7" y2="164.95" stroke="#222" stroke-width="0.9"/>
<line x1="368.9" y1="176.25" x2="621.7" y2="176.25" stroke="#222" stroke-width="0.9"/>
<line x1="368.9" y1="187.54" x2="621.7" y2="187.54" stroke="#222" stroke-width="0.9"/>
<line x1="368.9" y1="198.84" x2="621.7" y2="198.84" stroke="#222" stroke-width="0.9"/>
<line x1="368.9" y1="210.13" x2="621.7" y2="210.13" stroke="#222" stroke-width="0.9"/>
<line x1="368.9" y1="221.43" x2="621.7" y2="221.43" stroke="#222" stroke-width="0.9"/>
<line x1="368.9" y1="232.72" x2="621.7" y2="232.72" stroke="#222" stroke-width="0.9"/>
<line x1="368.9" y1="244.01" x2="621.7" y2="244.01" stroke="#222" stroke-width="0.9"/>
<line x1="368.9" y1="255.31" x2="621.7" y2="255.31" stroke="#222" stroke-width="0.9"/>
<line x1="368.9" y1="266.61" x2="621.7" y2="266.61" stroke="#222" stroke-width="0.9"/>
<line x1="368.9" y1="277.9" x2="621.7" y2="277.9" stroke="#222" stroke-width="0.9"/>
<line x1="368.9" y1="289.19" x2="621.7" y2="289.19" stroke="#222" stroke-width="0.9"/>
<line x1="368.9" y1="52" x2="368.9" y2="289.19" stroke="#333" stroke-width="0.9"/>
<line x1="621.7" y1="52" x2="621.7" y2="289.19" stroke="#333" stroke-width="0.9"/>
<rect x="361.5" y="52" width="6.1" height="22.59" fill="#93d66f" stroke="#333" stroke-width="0.6"/>
<rect x="361.5" y="74.59" width="6.1" height="33.88" fill="#1f8a3d" stroke="#333" stroke-width="0.6"/>
<rect x="361.5" y="108.47" width="6.1" height="11.29" fill="#d6e9f6" stroke="#333" stroke-width="0.6"/>
<rect x="361.5" y="119.77" width="6.1" height="22.59" fill="#4b7dc5" stroke="#333" stroke-width="0.6"/>
<rect x="361.5" y="142.36" width="6.1" height="11.29" fill="#8ec6ea" stroke="#333" stroke-width="0.6"/>
<rect x="361.5" y="153.66" width="6.1" height="11.29" fill="#e0568f" stroke="#333" stroke-width="0.6"/>
<rect x="361.5" y="164.95" width="6.1" height="11.29" fill="#e8c3d8" stroke="#333" stroke-width="0.6"/>
<rect x="361.5" y="176.25" width="6.1" height="22.59" fill="#e0568f" stroke="#333" stroke-width="0.6"/>
<rect x="361.5" y="198.84" width="6.1" height="11.29" fill="#ab3f73" stroke="#333" stroke-width="0.6"/>
<rect x="361.5" y="210.13" width="6.1" height="45.18" fill="#e8c3d8" stroke="#333" stroke-width="0.6"/>
<rect x="361.5" y="255.31" width="6.1" height="11.29" fill="#e08fc2" stroke="#333" stroke-width="0.6"/>
<rect x="361.5" y="266.61" width="6.1" height="22.59" fill="#e8c3d8" stroke="#333" stroke-width="0.6"/>
<text transform="translate(358.9 61.15) scale(0.9091 1)" font-size="10.12" text-anchor="end" fill="#93d66f" stroke="#93d66f">BpV2</text>
<text transform="translate(358.9 72.44) scale(0.9091 1)" font-size="10.12" text-anchor="end" fill="#93d66f" stroke="#93d66f">BpV1</text>
<text transform="translate(358.9 83.74) scale(0.9091 1)" font-size="10.12" text-anchor="end" fill="#1d8a3b" stroke="#1d8a3b" font-weight="bold">BII-V1</text>
<text transform="translate(358.9 95.03) scale(0.9091 1)" font-size="10.12" text-anchor="end" fill="#1d8a3b" stroke="#1d8a3b" font-weight="bold">BII-V2</text>
<text transform="translate(358.9 106.33) scale(0.9091 1)" font-size="10.12" text-anchor="end" fill="#1d8a3b" stroke="#1d8a3b" font-weight="bold">BII-V3</text>
<text transform="translate(358.9 117.62) scale(0.9091 1)" font-size="10.12" text-anchor="end" fill="#cfe5f5" stroke="#cfe5f5">MpV-12T</text>
<text transform="translate(358.9 128.92) scale(0.9091 1)" font-size="10.12" text-anchor="end" fill="#4b7dc5" stroke="#4b7dc5">MpV-PL1</text>
<text transform="translate(358.9 140.21) scale(0.9091 1)" font-size="10.12" text-anchor="end" fill="#4b7dc5" stroke="#4b7dc5">MpV-SP1</text>
<text transform="translate(358.9 151.51) scale(0.9091 1)" font-size="10.12" text-anchor="end" fill="#84c0e8" stroke="#84c0e8">MpV1</text>
<text transform="translate(358.9 162.8) scale(0.9091 1)" font-size="10.12" text-anchor="end" fill="#df4f8a" stroke="#df4f8a">OtV6</text>
<text transform="translate(358.9 174.1) scale(0.9091 1)" font-size="10.12" text-anchor="end" fill="#e3b9cf" stroke="#e3b9cf">OlV4</text>
<text transform="translate(358.9 185.39) scale(0.9091 1)" font-size="10.12" text-anchor="end" fill="#df4f8a" stroke="#df4f8a">OtV1</text>
<text transform="translate(358.9 196.69) scale(0.9091 1)" font-size="10.12" text-anchor="end" fill="#df4f8a" stroke="#df4f8a">OtV5</text>
<text transform="translate(358.9 207.98) scale(0.9091 1)" font-size="10.12" text-anchor="end" fill="#a63a6d" stroke="#a63a6d">OmV1</text>
<text transform="translate(358.9 219.28) scale(0.9091 1)" font-size="10.12" text-anchor="end" fill="#e3b9cf" stroke="#e3b9cf">OlV7</text>
<text transform="translate(358.9 230.57) scale(0.9091 1)" font-size="10.12" text-anchor="end" fill="#e3b9cf" stroke="#e3b9cf">OlV1</text>
<text transform="translate(358.9 241.87) scale(0.9091 1)" font-size="10.12" text-anchor="end" fill="#e3b9cf" stroke="#e3b9cf">OlV2</text>
<text transform="translate(358.9 253.16) scale(0.9091 1)" font-size="10.12" text-anchor="end" fill="#e3b9cf" stroke="#e3b9cf">OlV3</text>
<text transform="translate(358.9 264.46) scale(0.9091 1)" font-size="10.12" text-anchor="end" fill="#df86bd" stroke="#df86bd">OtV2</text>
<text transform="translate(358.9 275.75) scale(0.9091 1)" font-size="10.12" text-anchor="end" fill="#e3b9cf" stroke="#e3b9cf">OlV5</text>
<text transform="translate(358.9 287.05) scale(0.9091 1)" font-size="10.12" text-anchor="end" fill="#e3b9cf" stroke="#e3b9cf">OlV6</text>
<line x1="312.3" y1="57.65" x2="312.3" y2="68.94" stroke="#555" stroke-width="0.8"/>
<line x1="312.3" y1="57.65" x2="316.6" y2="57.65" stroke="#555" stroke-width="0.8"/>
<line x1="312.3" y1="68.94" x2="316.6" y2="68.94" stroke="#555" stroke-width="0.8"/>
<line x1="316.3" y1="91.53" x2="316.3" y2="102.83" stroke="#555" stroke-width="0.8"/>
<line x1="316.3" y1="91.53" x2="320.2" y2="91.53" stroke="#555" stroke-width="0.8"/>
<line x1="316.3" y1="102.83" x2="320.2" y2="102.83" stroke="#555" stroke-width="0.8"/>
<line x1="311" y1="80.24" x2="311" y2="97.18" stroke="#555" stroke-width="0.8"/>
<line x1="311" y1="80.24" x2="314.5" y2="80.24" stroke="#555" stroke-width="0.8"/>
<line x1="311" y1="97.18" x2="316.3" y2="97.18" stroke="#555" stroke-width="0.8"/>
<line x1="303.9" y1="63.3" x2="303.9" y2="88.71" stroke="#555" stroke-width="0.8"/>
<line x1="303.9" y1="63.3" x2="312.3" y2="63.3" stroke="#555" stroke-width="0.8"/>
<line x1="303.9" y1="88.71" x2="311" y2="88.71" stroke="#555" stroke-width="0.8"/>
<line x1="312.3" y1="125.42" x2="312.3" y2="136.71" stroke="#555" stroke-width="0.8"/>
<line x1="312.3" y1="125.42" x2="316.6" y2="125.42" stroke="#555" stroke-width="0.8"/>
<line x1="312.3" y1="136.71" x2="316.6" y2="136.71" stroke="#555" stroke-width="0.8"/>
<line x1="306.2" y1="148.01" x2="306.2" y2="159.3" stroke="#555" stroke-width="0.8"/>
<line x1="306.2" y1="148.01" x2="309.8" y2="148.01" stroke="#555" stroke-width="0.8"/>
<line x1="306.2" y1="159.3" x2="309.8" y2="159.3" stroke="#555" stroke-width="0.8"/>
<line x1="301.3" y1="131.06" x2="301.3" y2="153.66" stroke="#555" stroke-width="0.8"/>
<line x1="301.3" y1="131.06" x2="312.3" y2="131.06" stroke="#555" stroke-width="0.8"/>
<line x1="301.3" y1="153.66" x2="306.2" y2="153.66" stroke="#555" stroke-width="0.8"/>
<line x1="297.1" y1="114.12" x2="297.1" y2="142.36" stroke="#555" stroke-width="0.8"/>
<line x1="297.1" y1="114.12" x2="301.3" y2="114.12" stroke="#555" stroke-width="0.8"/>
<line x1="297.1" y1="142.36" x2="301.3" y2="142.36" stroke="#555" stroke-width="0.8"/>
<line x1="321" y1="193.19" x2="321" y2="204.48" stroke="#555" stroke-width="0.8"/>
<line x1="321" y1="193.19" x2="324.5" y2="193.19" stroke="#555" stroke-width="0.8"/>
<line x1="321" y1="204.48" x2="324.5" y2="204.48" stroke="#555" stroke-width="0.8"/>
<line x1="315.7" y1="181.89" x2="315.7" y2="198.83" stroke="#555" stroke-width="0.8"/>
<line x1="315.7" y1="181.89" x2="319.2" y2="181.89" stroke="#555" stroke-width="0.8"/>
<line x1="315.7" y1="198.83" x2="321" y2="198.83" stroke="#555" stroke-width="0.8"/>
<line x1="315.7" y1="215.78" x2="315.7" y2="227.07" stroke="#555" stroke-width="0.8"/>
<line x1="315.7" y1="215.78" x2="319.2" y2="215.78" stroke="#555" stroke-width="0.8"/>
<line x1="315.7" y1="227.07" x2="319.2" y2="227.07" stroke="#555" stroke-width="0.8"/>
<line x1="320" y1="238.37" x2="320" y2="249.66" stroke="#555" stroke-width="0.8"/>
<line x1="320" y1="238.37" x2="323.5" y2="238.37" stroke="#555" stroke-width="0.8"/>
<line x1="320" y1="249.66" x2="323.5" y2="249.66" stroke="#555" stroke-width="0.8"/>
<line x1="322.7" y1="272.25" x2="322.7" y2="283.55" stroke="#555" stroke-width="0.8"/>
<line x1="322.7" y1="272.25" x2="326.2" y2="272.25" stroke="#555" stroke-width="0.8"/>
<line x1="322.7" y1="283.55" x2="326.2" y2="283.55" stroke="#555" stroke-width="0.8"/>
<line x1="319.2" y1="260.96" x2="319.2" y2="277.9" stroke="#555" stroke-width="0.8"/>
<line x1="319.2" y1="260.96" x2="322.7" y2="260.96" stroke="#555" stroke-width="0.8"/>
<line x1="319.2" y1="277.9" x2="322.7" y2="277.9" stroke="#555" stroke-width="0.8"/>
<line x1="315.7" y1="244.01" x2="315.7" y2="269.43" stroke="#555" stroke-width="0.8"/>
<line x1="315.7" y1="244.01" x2="320" y2="244.01" stroke="#555" stroke-width="0.8"/>
<line x1="315.7" y1="269.43" x2="319.2" y2="269.43" stroke="#555" stroke-width="0.8"/>
<line x1="311.6" y1="221.43" x2="311.6" y2="256.72" stroke="#555" stroke-width="0.8"/>
<line x1="311.6" y1="221.43" x2="315.7" y2="221.43" stroke="#555" stroke-width="0.8"/>
<line x1="311.6" y1="256.72" x2="315.7" y2="256.72" stroke="#555" stroke-width="0.8"/>
<line x1="308.7" y1="190.36" x2="308.7" y2="239.07" stroke="#555" stroke-width="0.8"/>
<line x1="308.7" y1="190.36" x2="315.7" y2="190.36" stroke="#555" stroke-width="0.8"/>
<line x1="308.7" y1="239.07" x2="311.6" y2="239.07" stroke="#555" stroke-width="0.8"/>
<line x1="296.6" y1="170.6" x2="296.6" y2="214.72" stroke="#555" stroke-width="0.8"/>
<line x1="296.6" y1="170.6" x2="300.6" y2="170.6" stroke="#555" stroke-width="0.8"/>
<line x1="296.6" y1="214.72" x2="308.7" y2="214.72" stroke="#555" stroke-width="0.8"/>
<line x1="293.1" y1="128.24" x2="293.1" y2="192.66" stroke="#555" stroke-width="0.8"/>
<line x1="293.1" y1="128.24" x2="297.1" y2="128.24" stroke="#555" stroke-width="0.8"/>
<line x1="293.1" y1="192.66" x2="296.6" y2="192.66" stroke="#555" stroke-width="0.8"/>
<line x1="286.5" y1="76" x2="286.5" y2="160.45" stroke="#555" stroke-width="0.8"/>
<line x1="286.5" y1="76" x2="303.9" y2="76" stroke="#555" stroke-width="0.8"/>
<line x1="286.5" y1="160.45" x2="293.1" y2="160.45" stroke="#555" stroke-width="0.8"/>
<circle cx="295.4" cy="76" r="1.8" fill="#f2f2f2" stroke="#666" stroke-width="0.5"/>
<circle cx="308.4" cy="63.3" r="1.8" fill="#f2f2f2" stroke="#666" stroke-width="0.5"/>
<circle cx="307.9" cy="88.71" r="1.8" fill="#f2f2f2" stroke="#666" stroke-width="0.5"/>
<circle cx="313.2" cy="97.18" r="1.8" fill="#111"/>
<circle cx="290.1" cy="160.45" r="1.8" fill="#111"/>
<circle cx="295.4" cy="128.24" r="1.8" fill="#f2f2f2" stroke="#666" stroke-width="0.5"/>
<circle cx="307" cy="131.06" r="1.8" fill="#f2f2f2" stroke="#666" stroke-width="0.5"/>
<circle cx="299.5" cy="142.36" r="1.8" fill="#8a8a8a" stroke="#666" stroke-width="0.5"/>
<circle cx="303.6" cy="153.66" r="1.8" fill="#8a8a8a" stroke="#666" stroke-width="0.5"/>
<circle cx="294.8" cy="192.66" r="1.8" fill="#8a8a8a" stroke="#666" stroke-width="0.5"/>
<circle cx="302.6" cy="214.72" r="1.8" fill="#111"/>
<circle cx="312.3" cy="190.36" r="1.8" fill="#f2f2f2" stroke="#666" stroke-width="0.5"/>
<circle cx="318" cy="198.83" r="1.8" fill="#111"/>
<circle cx="313.6" cy="221.43" r="1.8" fill="#111"/>
<circle cx="310" cy="239.07" r="1.8" fill="#8a8a8a" stroke="#666" stroke-width="0.5"/>
<circle cx="317.5" cy="244.01" r="1.8" fill="#111"/>
<circle cx="313.4" cy="256.72" r="1.8" fill="#111"/>
<circle cx="316.6" cy="269.43" r="1.8" fill="#111"/>
<circle cx="320.6" cy="277.9" r="1.8" fill="#111"/>
<line x1="289" y1="291.7" x2="329.3" y2="291.7" stroke="#333" stroke-width="0.8"/>
<line x1="289" y1="291.7" x2="289" y2="294.2" stroke="#333" stroke-width="0.6"/>
<line x1="294.04" y1="291.7" x2="294.04" y2="294.2" stroke="#333" stroke-width="0.6"/>
<line x1="299.07" y1="291.7" x2="299.07" y2="294.2" stroke="#333" stroke-width="0.6"/>
<line x1="304.11" y1="291.7" x2="304.11" y2="294.2" stroke="#333" stroke-width="0.6"/>
<line x1="309.15" y1="291.7" x2="309.15" y2="294.2" stroke="#333" stroke-width="0.6"/>
<line x1="314.19" y1="291.7" x2="314.19" y2="294.2" stroke="#333" stroke-width="0.6"/>
<line x1="319.23" y1="291.7" x2="319.23" y2="294.2" stroke="#333" stroke-width="0.6"/>
<line x1="324.26" y1="291.7" x2="324.26" y2="294.2" stroke="#333" stroke-width="0.6"/>
<line x1="329.3" y1="291.7" x2="329.3" y2="294.2" stroke="#333" stroke-width="0.6"/>
<text x="289.4" y="300.9" font-size="5.6" text-anchor="middle" fill="#222" stroke="#222">0.35</text>
<text x="331" y="300.9" font-size="5.6" text-anchor="middle" fill="#222" stroke="#222">0.05</text>
<text transform="translate(308.6 307.4) scale(0.9524 1)" font-size="7.67" text-anchor="middle" fill="#222" stroke="#222">Dissimilarity</text>
<rect x="297.8" y="310.7" width="55.6" height="32.5" fill="#fff" stroke="#888" stroke-width="0.6"/>
<text x="325.6" y="317.2" font-size="6" text-anchor="middle" fill="#222" stroke="#222">% of node support</text>
<line x1="297.8" y1="319.1" x2="353.4" y2="319.1" stroke="#999" stroke-width="0.6"/>
<circle cx="317.4" cy="322.8" r="1.6" fill="#ffffff" stroke="#666" stroke-width="0.4"/>
<text transform="translate(319.4 325.1) scale(0.9259 1)" font-size="6.91" fill="#222" stroke="#222">100</text>
<circle cx="317.4" cy="328.3" r="1.6" fill="#111"/>
<text transform="translate(319.4 330.6) scale(0.9259 1)" font-size="6.91" fill="#222" stroke="#222">≥90</text>
<circle cx="317.4" cy="333.8" r="1.6" fill="#8a8a8a" stroke="#666" stroke-width="0.4"/>
<text transform="translate(319.4 336.1) scale(0.9259 1)" font-size="6.91" fill="#222" stroke="#222">≥80</text>
<circle cx="317.4" cy="339.3" r="1.6" fill="#ececec" stroke="#666" stroke-width="0.4"/>
<text transform="translate(319.4 341.6) scale(0.9259 1)" font-size="6.91" fill="#222" stroke="#222">≥60</text>
<rect x="363.3" y="294.4" width="9.9" height="9.8" fill="#93d66f" stroke="#444" stroke-width="0.6"/>
<text transform="translate(376 302.1) scale(0.926 1)" font-size="9.18" fill="#111" stroke="#111"><tspan font-style="italic">Bathycoccus prasinos</tspan> (Clade BI)</text>
<rect x="363.3" y="304.2" width="9.9" height="9.8" fill="#1f8a3d" stroke="#444" stroke-width="0.6"/>
<text transform="translate(376 311.9) scale(0.926 1)" font-size="9.18" fill="#111" stroke="#111"><tspan font-style="italic">Bathycoccus</tspan> sp. (Clade BII)</text>
<rect x="363.3" y="314" width="9.9" height="9.8" fill="#d6e9f6" stroke="#444" stroke-width="0.6"/>
<text transform="translate(376 321.7) scale(0.926 1)" font-size="9.18" fill="#111" stroke="#111"><tspan font-style="italic">Micromonas commoda</tspan></text>
<rect x="363.3" y="323.8" width="9.9" height="9.8" fill="#8ec6ea" stroke="#444" stroke-width="0.6"/>
<text transform="translate(376 331.5) scale(0.926 1)" font-size="9.18" fill="#111" stroke="#111"><tspan font-style="italic">Micromonas</tspan> sp. 2</text>
<rect x="363.3" y="333.6" width="9.9" height="9.8" fill="#4b7dc5" stroke="#444" stroke-width="0.6"/>
<text transform="translate(376 341.3) scale(0.926 1)" font-size="9.18" fill="#111" stroke="#111"><tspan font-style="italic">Micromonas pusilla</tspan></text>
<rect x="501.2" y="294.8" width="9.8" height="9.75" fill="#e8c3d8" stroke="#444" stroke-width="0.6"/>
<text transform="translate(513.4 302.5) scale(0.926 1)" font-size="9.18" fill="#111" stroke="#111"><tspan font-style="italic">Ostreococcus lucimarinus</tspan></text>
<rect x="501.2" y="304.55" width="9.8" height="9.75" fill="#e08fc2" stroke="#444" stroke-width="0.6"/>
<text transform="translate(513.4 312.25) scale(0.926 1)" font-size="9.18" fill="#111" stroke="#111"><tspan font-style="italic">Ostreococcus</tspan> sp. (Clade OII)</text>
<rect x="501.2" y="314.3" width="9.8" height="9.75" fill="#e0568f" stroke="#444" stroke-width="0.6"/>
<text transform="translate(513.4 322) scale(0.926 1)" font-size="9.18" fill="#111" stroke="#111"><tspan font-style="italic">Ostreococcus tauri</tspan></text>
<rect x="501.2" y="324.05" width="9.8" height="9.75" fill="#ab3f73" stroke="#444" stroke-width="0.6"/>
<text transform="translate(513.4 331.75) scale(0.926 1)" font-size="9.18" fill="#111" stroke="#111"><tspan font-style="italic">Ostreococcus mediterraneus</tspan></text>
<rect x="528.2" y="2.4" width="12.47" height="10.5" fill="#ffffff" stroke="#333" stroke-width="0.7"/>
<text transform="translate(534.43 11) scale(0.9091 1)" font-size="9.9" text-anchor="middle" fill="#222" stroke="#222">0</text>
<rect x="540.67" y="2.4" width="12.47" height="10.5" fill="#4d63b8" stroke="#333" stroke-width="0.7"/>
<text transform="translate(546.9 11) scale(0.9091 1)" font-size="9.9" text-anchor="middle" fill="#111" stroke="#111">1</text>
<rect x="553.14" y="2.4" width="12.47" height="10.5" fill="#fdd39d" stroke="#333" stroke-width="0.7"/>
<text transform="translate(559.37 11) scale(0.9091 1)" font-size="9.9" text-anchor="middle" fill="#222" stroke="#222">2</text>
<rect x="565.61" y="2.4" width="12.47" height="10.5" fill="#f28a12" stroke="#333" stroke-width="0.7"/>
<text transform="translate(571.84 11) scale(0.9091 1)" font-size="9.9" text-anchor="middle" fill="#222" stroke="#222">3</text>
<rect x="578.08" y="2.4" width="12.47" height="10.5" fill="#e21b3b" stroke="#333" stroke-width="0.7"/>
<text transform="translate(584.31 11) scale(0.9091 1)" font-size="9.9" text-anchor="middle" fill="#222" stroke="#222">4</text>
<rect x="590.55" y="2.4" width="12.47" height="10.5" fill="#a5232a" stroke="#333" stroke-width="0.7"/>
<text transform="translate(596.78 11) scale(0.9091 1)" font-size="9.9" text-anchor="middle" fill="#222" stroke="#222">≥5</text>
<text transform="translate(568.6 23.3) scale(0.9259 1)" font-size="9.29" text-anchor="middle" fill="#1a1a1a" stroke="#1a1a1a">Number of genes</text>
<text transform="translate(568.6 30.4) scale(0.9259 1)" font-size="9.29" text-anchor="middle" fill="#1a1a1a" stroke="#1a1a1a">in orthogroup</text>
<text transform="translate(630.6 11.3) scale(0.9524 1)" font-size="14.91" stroke="#000" letter-spacing="0.8">C.</text>
<rect x="632.6" y="52.1" width="16" height="10.6" fill="#dadada" stroke="#444" stroke-width="0.8"/>
<rect x="632.6" y="64" width="9.9" height="10.1" fill="#dadada" stroke="#444" stroke-width="0.8"/>
<rect x="632.6" y="75.3" width="14.6" height="10.5" fill="#dadada" stroke="#444" stroke-width="0.8"/>
<rect x="632.6" y="86.6" width="28.2" height="10.5" fill="#dadada" stroke="#444" stroke-width="0.8"/>
<rect x="632.6" y="97.6" width="29" height="10" fill="#dadada" stroke="#444" stroke-width="0.8"/>
<rect x="632.6" y="109.4" width="51.7" height="9.9" fill="#dadada" stroke="#444" stroke-width="0.8"/>
<rect x="632.6" y="120.7" width="18.1" height="9.6" fill="#dadada" stroke="#444" stroke-width="0.8"/>
<rect x="632.6" y="131.5" width="12.8" height="10.5" fill="#dadada" stroke="#444" stroke-width="0.8"/>
<rect x="632.6" y="142.5" width="36.9" height="10.5" fill="#dadada" stroke="#444" stroke-width="0.8"/>
<rect x="632.6" y="154.4" width="24.2" height="9.9" fill="#dadada" stroke="#444" stroke-width="0.8"/>
<rect x="632.6" y="165.2" width="20.8" height="10.2" fill="#dadada" stroke="#444" stroke-width="0.8"/>
<rect x="632.6" y="176.6" width="3.2" height="9.9" fill="#dadada" stroke="#444" stroke-width="0.8"/>
<rect x="632.6" y="187.9" width="1.6" height="9.6" fill="#dadada" stroke="#444" stroke-width="0.8"/>
<rect x="632.6" y="198.7" width="6" height="10.5" fill="#dadada" stroke="#444" stroke-width="0.8"/>
<rect x="632.6" y="210.4" width="2.8" height="9.6" fill="#dadada" stroke="#444" stroke-width="0.8"/>
<rect x="632.6" y="221.4" width="5" height="9.8" fill="#dadada" stroke="#444" stroke-width="0.8"/>
<rect x="632.6" y="232.6" width="2.8" height="9.6" fill="#dadada" stroke="#444" stroke-width="0.8"/>
<rect x="632.6" y="243.8" width="5" height="10.2" fill="#dadada" stroke="#444" stroke-width="0.8"/>
<rect x="632.6" y="255.3" width="5" height="9.9" fill="#dadada" stroke="#444" stroke-width="0.8"/>
<line x1="632.6" y1="51.5" x2="632.6" y2="288.9" stroke="#444" stroke-width="0.9"/>
<line x1="632.6" y1="288.9" x2="680.3" y2="288.9" stroke="#444" stroke-width="0.9"/>
<line x1="632.6" y1="288.9" x2="632.6" y2="293.6" stroke="#444" stroke-width="0.8"/>
<text transform="translate(632.6 302.5) scale(0.9091 1)" font-size="9.9" text-anchor="middle" fill="#222" stroke="#222">0</text>
<line x1="648.5" y1="288.9" x2="648.5" y2="293.6" stroke="#444" stroke-width="0.8"/>
<text transform="translate(648.5 302.5) scale(0.9091 1)" font-size="9.9" text-anchor="middle" fill="#222" stroke="#222">10</text>
<line x1="664.4" y1="288.9" x2="664.4" y2="293.6" stroke="#444" stroke-width="0.8"/>
<text transform="translate(664.4 302.5) scale(0.9091 1)" font-size="9.9" text-anchor="middle" fill="#222" stroke="#222">20</text>
<line x1="680.3" y1="288.9" x2="680.3" y2="293.6" stroke="#444" stroke-width="0.8"/>
<text transform="translate(680.3 302.5) scale(0.9091 1)" font-size="9.9" text-anchor="middle" fill="#222" stroke="#222">30</text>
<text transform="translate(656.8 314.9) scale(0.9091 1)" font-size="10.45" text-anchor="middle" fill="#222" stroke="#222">Number of</text>
<text transform="translate(656.8 326.4) scale(0.9091 1)" font-size="10.45" text-anchor="middle" fill="#222" stroke="#222">unassigned</text>
<text transform="translate(656.8 337.9) scale(0.9091 1)" font-size="10.45" text-anchor="middle" fill="#222" stroke="#222">genes</text>
</svg>
</body></html>
